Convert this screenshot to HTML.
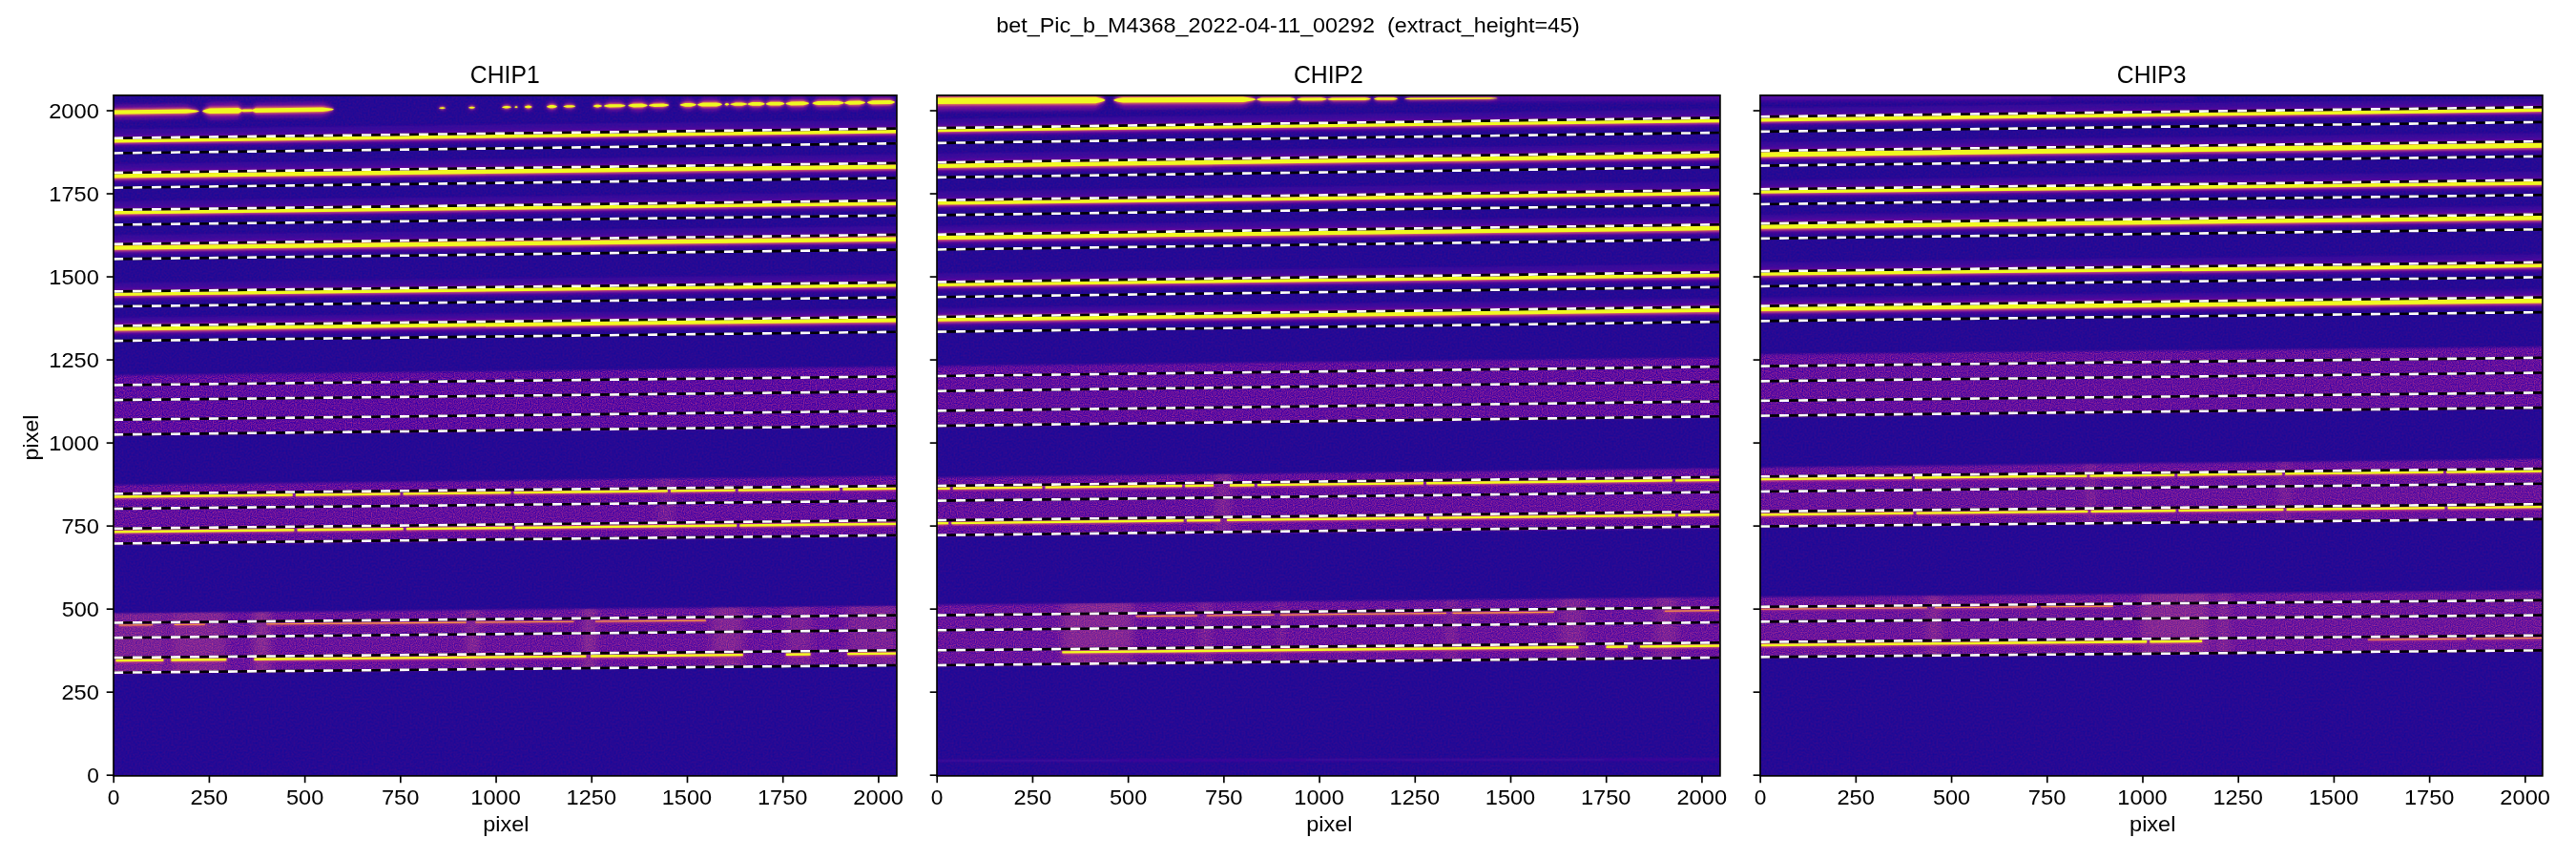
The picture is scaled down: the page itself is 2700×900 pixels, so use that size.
<!DOCTYPE html><html><head><meta charset="utf-8"><style>html,body{margin:0;padding:0;background:#fff;width:2700px;height:900px;overflow:hidden}svg{display:block;will-change:transform}text{font-family:"Liberation Sans",sans-serif;fill:#000}</style></head><body>
<svg width="2700" height="900" viewBox="0 0 2700 900">
<defs>
<filter id="bh" filterUnits="userSpaceOnUse" x="0" y="90" width="2700" height="735"><feGaussianBlur stdDeviation="2.4"/></filter>
<filter id="bm" filterUnits="userSpaceOnUse" x="0" y="90" width="2700" height="735"><feGaussianBlur stdDeviation="1.1"/></filter>
<filter id="bb" filterUnits="userSpaceOnUse" x="0" y="90" width="2700" height="735"><feGaussianBlur stdDeviation="1"/></filter>
<clipPath id="c0"><rect x="119" y="99.85" width="820.93" height="713.05"/></clipPath>
<clipPath id="c1"><rect x="982.02" y="99.85" width="820.91" height="713.05"/></clipPath>
<clipPath id="c2"><rect x="1844.93" y="99.85" width="820" height="713.05"/></clipPath>
<filter id="nz" filterUnits="userSpaceOnUse" x="0" y="90" width="2700" height="735" primitiveUnits="userSpaceOnUse" color-interpolation-filters="sRGB"><feGaussianBlur in="SourceGraphic" stdDeviation="1" result="b"/><feTurbulence type="fractalNoise" baseFrequency="0.85" numOctaves="1" seed="11" result="t"/><feColorMatrix in="t" type="matrix" values="0.85 0 0 0 -0.055  0.36 0 0 0 -0.13  -0.2 0 0 0 0.725  0 0 0 0 1" result="c"/><feComposite in="c" in2="b" operator="in"/></filter>
<filter id="nd" x="0" y="0" width="100%" height="100%" primitiveUnits="userSpaceOnUse" color-interpolation-filters="sRGB"><feTurbulence type="fractalNoise" baseFrequency="0.5" numOctaves="2" seed="5" result="t"/><feColorMatrix in="t" type="matrix" values="0.18 0 0 0 0.06  0.0 0 0 0 0.035  -0.06 0 0 0 0.61  0 0 0 0 1" result="c"/><feComposite in="c" in2="SourceGraphic" operator="in"/></filter>
<filter id="bsk" filterUnits="userSpaceOnUse" x="0" y="90" width="2700" height="735"><feGaussianBlur stdDeviation="4 1"/></filter>
</defs>
<g clip-path="url(#c0)">
<rect x="119" y="99.85" width="820.93" height="713.05" fill="#260996" filter="url(#nd)"/>
<g filter="url(#nz)" fill="#5a09a2">
<polygon points="109,393.4 949.93,384.3 949.93,447.2 109,456.8"/>
<polygon points="109,508.4 949.93,498.7 949.93,562.2 109,571.2"/>
<polygon points="109,642.8 949.93,634.8 949.93,696.6 109,706.3"/>
</g>
<polygon filter="url(#bb)" fill="#c8508a" opacity="0.05" points="109,508.4 949.93,498.7 949.93,562.2 109,571.2"/>
<polygon filter="url(#bb)" fill="#c8508a" opacity="0.1" points="109,642.8 949.93,634.8 949.93,696.6 109,706.3"/>
<clipPath id="sk0_2"><polygon points="109,642.8 949.93,634.8 949.93,696.6 109,706.3"/></clipPath>
<g clip-path="url(#sk0_2)"><g filter="url(#bsk)" fill="#e0707a">
<rect x="115" y="629.8" width="58" height="81.5" opacity="0.156"/>
<rect x="179" y="629.8" width="58" height="81.5" opacity="0.208"/>
<rect x="266" y="629.8" width="17" height="81.5" opacity="0.26"/>
<rect x="489" y="629.8" width="13" height="81.5" opacity="0.234"/>
<rect x="611" y="629.8" width="13" height="81.5" opacity="0.26"/>
<rect x="746" y="629.8" width="33" height="81.5" opacity="0.208"/>
<rect x="824" y="629.8" width="26" height="81.5" opacity="0.156"/>
<rect x="888" y="629.8" width="52" height="81.5" opacity="0.156"/>
</g></g>
<clipPath id="sk0_1"><polygon points="109,508.4 949.93,498.7 949.93,562.2 109,571.2"/></clipPath>
<g clip-path="url(#sk0_1)"><g filter="url(#bsk)" fill="#e0707a">
<rect x="690" y="493.7" width="15" height="82.5" opacity="0.156"/>
</g></g>
<g filter="url(#bb)" fill="#4a08a0" opacity="0.55">
<polygon points="109,135.3 949.93,125.3 949.93,142.3 109,152.3"/>
<polygon points="109,171.7 949.93,161.4 949.93,178.4 109,188.7"/>
<polygon points="109,210.7 949.93,200.7 949.93,217.7 109,227.7"/>
<polygon points="109,246.4 949.93,236.4 949.93,253.4 109,263.4"/>
<polygon points="109,296.4 949.93,287 949.93,304 109,313.4"/>
<polygon points="109,332.5 949.93,323.1 949.93,340.1 109,349.5"/>
</g>
<g filter="url(#bh)" stroke="#8c0ba4" fill="none" opacity="0.8">
<line x1="114" y1="147.81" x2="944.93" y2="137.69" stroke-width="9.0"/>
<line x1="114" y1="222.91" x2="944.93" y2="213.09" stroke-width="9.0"/>
<line x1="114" y1="308.31" x2="944.93" y2="298.79" stroke-width="9.0"/>
</g>
<g filter="url(#bm)" stroke="#e9636a" fill="none">
<line x1="114" y1="147.81" x2="944.93" y2="137.69" stroke-width="5.0"/>
<line x1="114" y1="222.91" x2="944.93" y2="213.09" stroke-width="5.0"/>
<line x1="114" y1="308.31" x2="944.93" y2="298.79" stroke-width="5.0"/>
</g>
<g stroke="#f0f921" fill="none">
<line x1="114" y1="147.81" x2="944.93" y2="137.69" stroke-width="3.5"/>
<line x1="114" y1="222.91" x2="944.93" y2="213.09" stroke-width="3.5"/>
<line x1="114" y1="308.31" x2="944.93" y2="298.79" stroke-width="3.5"/>
</g>
<g filter="url(#bh)" stroke="#8c0ba4" fill="none" opacity="0.85">
<line x1="114" y1="184.51" x2="944.93" y2="174.49" stroke-width="11.0"/>
<line x1="114" y1="259.6" x2="944.93" y2="250.5" stroke-width="11.0"/>
<line x1="114" y1="344.3" x2="944.93" y2="335.2" stroke-width="11.0"/>
</g>
<g filter="url(#bm)" stroke="#ec6f5c" fill="none">
<line x1="114" y1="184.51" x2="944.93" y2="174.49" stroke-width="6.4"/>
<line x1="114" y1="259.6" x2="944.93" y2="250.5" stroke-width="6.4"/>
<line x1="114" y1="344.3" x2="944.93" y2="335.2" stroke-width="6.4"/>
</g>
<g stroke="#f0f921" fill="none">
<line x1="114" y1="184.51" x2="944.93" y2="174.49" stroke-width="4.3"/>
<line x1="114" y1="259.6" x2="944.93" y2="250.5" stroke-width="4.3"/>
<line x1="114" y1="344.3" x2="944.93" y2="335.2" stroke-width="4.3"/>
</g>
<g filter="url(#bh)" stroke="#8c0ba4" fill="none" opacity="0.45">
<line x1="114" y1="520.6" x2="306.7" y2="518.56" stroke-width="7"/>
<line x1="309.9" y1="518.53" x2="419.4" y2="517.37" stroke-width="7"/>
<line x1="422.6" y1="517.33" x2="535.4" y2="516.14" stroke-width="7"/>
<line x1="538.6" y1="516.1" x2="699.8" y2="514.4" stroke-width="7"/>
<line x1="703" y1="514.36" x2="770.6" y2="513.65" stroke-width="7"/>
<line x1="773.8" y1="513.61" x2="880.1" y2="512.48" stroke-width="7"/>
<line x1="883.3" y1="512.45" x2="944.93" y2="511.8" stroke-width="7"/>
<line x1="114" y1="557.3" x2="308.4" y2="555.31" stroke-width="7"/>
<line x1="311.6" y1="555.28" x2="422.7" y2="554.14" stroke-width="7"/>
<line x1="425.9" y1="554.11" x2="537" y2="552.97" stroke-width="7"/>
<line x1="540.2" y1="552.94" x2="772.2" y2="550.57" stroke-width="7"/>
<line x1="775.4" y1="550.53" x2="944.93" y2="548.8" stroke-width="7"/>
<line x1="121.4" y1="692.03" x2="171.4" y2="691.58" stroke-width="7"/>
<line x1="179.4" y1="691.51" x2="237.4" y2="690.98" stroke-width="7"/>
<line x1="266.4" y1="690.72" x2="614.4" y2="687.58" stroke-width="7"/>
<line x1="619.2" y1="687.54" x2="778.7" y2="686.1" stroke-width="7"/>
<line x1="823.8" y1="685.7" x2="849.5" y2="685.47" stroke-width="7"/>
<line x1="888.2" y1="685.12" x2="940" y2="684.65" stroke-width="7"/>
</g>
<g filter="url(#bm)" stroke="#e9636a" fill="none">
<line x1="114" y1="520.6" x2="306.7" y2="518.56" stroke-width="3.8"/>
<line x1="309.9" y1="518.53" x2="419.4" y2="517.37" stroke-width="3.8"/>
<line x1="422.6" y1="517.33" x2="535.4" y2="516.14" stroke-width="3.8"/>
<line x1="538.6" y1="516.1" x2="699.8" y2="514.4" stroke-width="3.8"/>
<line x1="703" y1="514.36" x2="770.6" y2="513.65" stroke-width="3.8"/>
<line x1="773.8" y1="513.61" x2="880.1" y2="512.48" stroke-width="3.8"/>
<line x1="883.3" y1="512.45" x2="944.93" y2="511.8" stroke-width="3.8"/>
<line x1="114" y1="557.3" x2="308.4" y2="555.31" stroke-width="3.8"/>
<line x1="311.6" y1="555.28" x2="422.7" y2="554.14" stroke-width="3.8"/>
<line x1="425.9" y1="554.11" x2="537" y2="552.97" stroke-width="3.8"/>
<line x1="540.2" y1="552.94" x2="772.2" y2="550.57" stroke-width="3.8"/>
<line x1="775.4" y1="550.53" x2="944.93" y2="548.8" stroke-width="3.8"/>
<line x1="121.4" y1="692.03" x2="171.4" y2="691.58" stroke-width="3.8"/>
<line x1="179.4" y1="691.51" x2="237.4" y2="690.98" stroke-width="3.8"/>
<line x1="266.4" y1="690.72" x2="614.4" y2="687.58" stroke-width="3.8"/>
<line x1="619.2" y1="687.54" x2="778.7" y2="686.1" stroke-width="3.8"/>
<line x1="823.8" y1="685.7" x2="849.5" y2="685.47" stroke-width="3.8"/>
<line x1="888.2" y1="685.12" x2="940" y2="684.65" stroke-width="3.8"/>
</g>
<g stroke="#f0f921" fill="none">
<line x1="114" y1="520.6" x2="306.7" y2="518.56" stroke-width="2.4"/>
<line x1="309.9" y1="518.53" x2="419.4" y2="517.37" stroke-width="2.4"/>
<line x1="422.6" y1="517.33" x2="535.4" y2="516.14" stroke-width="2.4"/>
<line x1="538.6" y1="516.1" x2="699.8" y2="514.4" stroke-width="2.4"/>
<line x1="703" y1="514.36" x2="770.6" y2="513.65" stroke-width="2.4"/>
<line x1="773.8" y1="513.61" x2="880.1" y2="512.48" stroke-width="2.4"/>
<line x1="883.3" y1="512.45" x2="944.93" y2="511.8" stroke-width="2.4"/>
<line x1="114" y1="557.3" x2="308.4" y2="555.31" stroke-width="2.4"/>
<line x1="311.6" y1="555.28" x2="422.7" y2="554.14" stroke-width="2.4"/>
<line x1="425.9" y1="554.11" x2="537" y2="552.97" stroke-width="2.4"/>
<line x1="540.2" y1="552.94" x2="772.2" y2="550.57" stroke-width="2.4"/>
<line x1="775.4" y1="550.53" x2="944.93" y2="548.8" stroke-width="2.4"/>
<line x1="121.4" y1="692.03" x2="171.4" y2="691.58" stroke-width="2.4"/>
<line x1="179.4" y1="691.51" x2="237.4" y2="690.98" stroke-width="2.4"/>
<line x1="266.4" y1="690.72" x2="614.4" y2="687.58" stroke-width="2.4"/>
<line x1="619.2" y1="687.54" x2="778.7" y2="686.1" stroke-width="2.4"/>
<line x1="823.8" y1="685.7" x2="849.5" y2="685.47" stroke-width="2.4"/>
<line x1="888.2" y1="685.12" x2="940" y2="684.65" stroke-width="2.4"/>
</g>
<g filter="url(#bh)" stroke="#9c179e" fill="none" opacity="0.25">
<line x1="124.7" y1="655" x2="160.1" y2="654.72" stroke-width="4"/>
<line x1="182.7" y1="654.55" x2="214.9" y2="654.29" stroke-width="4"/>
<line x1="279.3" y1="653.78" x2="488.7" y2="652.12" stroke-width="4"/>
<line x1="498.4" y1="652.05" x2="601.5" y2="651.23" stroke-width="4"/>
<line x1="624" y1="651.05" x2="740" y2="650.13" stroke-width="4"/>
</g>
<g filter="url(#bm)" stroke="#d0487a" fill="none">
<line x1="124.7" y1="655" x2="160.1" y2="654.72" stroke-width="2.2"/>
<line x1="182.7" y1="654.55" x2="214.9" y2="654.29" stroke-width="2.2"/>
<line x1="279.3" y1="653.78" x2="488.7" y2="652.12" stroke-width="2.2"/>
<line x1="498.4" y1="652.05" x2="601.5" y2="651.23" stroke-width="2.2"/>
<line x1="624" y1="651.05" x2="740" y2="650.13" stroke-width="2.2"/>
</g>
<g stroke="#f8a03a" fill="none">
<line x1="124.7" y1="655" x2="160.1" y2="654.72" stroke-width="1.1"/>
<line x1="182.7" y1="654.55" x2="214.9" y2="654.29" stroke-width="1.1"/>
<line x1="279.3" y1="653.78" x2="488.7" y2="652.12" stroke-width="1.1"/>
<line x1="498.4" y1="652.05" x2="601.5" y2="651.23" stroke-width="1.1"/>
<line x1="624" y1="651.05" x2="740" y2="650.13" stroke-width="1.1"/>
</g>
<g filter="url(#bh)" fill="#9a179b" opacity="0.8">
<path d="M119.0,117.60 L119.0,111.00 L195.0,110.02 L197.3,110.67 L199.7,111.38 L202.0,112.17 L204.3,113.08 L206.7,114.22 L209.0,116.44 L206.7,118.72 L204.3,119.91 L202.0,120.88 L199.7,121.73 L197.3,122.50 L195.0,123.22 L119.0,124.20Z"/>
<path d="M212.0,116.40 L213.3,113.52 L214.7,112.02 L216.0,110.81 L217.3,109.74 L218.7,108.78 L220.0,107.90 L250.0,107.51 L250.7,108.37 L251.3,109.31 L252.0,110.34 L252.7,111.53 L253.3,113.00 L254.0,115.86 L253.3,118.73 L252.7,120.22 L252.0,121.42 L251.3,122.48 L250.7,123.43 L250.0,124.31 L220.0,124.70 L218.7,123.84 L217.3,122.92 L216.0,121.89 L214.7,120.71 L213.3,119.25Z"/>
<path d="M252.0,115.88 L252.5,114.55 L253.0,113.85 L253.5,113.29 L254.0,112.80 L254.5,112.35 L255.0,111.94 L263.0,111.84 L263.5,112.24 L264.0,112.67 L264.5,113.15 L265.0,113.70 L265.5,114.38 L266.0,115.70 L265.5,117.04 L265.0,117.73 L264.5,118.29 L264.0,118.79 L263.5,119.23 L263.0,119.64 L255.0,119.74 L254.5,119.35 L254.0,118.91 L253.5,118.44 L253.0,117.89 L252.5,117.21Z"/>
<path d="M264.0,115.73 L264.7,113.36 L265.3,112.14 L266.0,111.15 L266.7,110.28 L267.3,109.50 L268.0,108.78 L338.0,107.87 L340.0,108.56 L342.0,109.31 L344.0,110.14 L346.0,111.10 L348.0,112.29 L350.0,114.62 L348.0,117.00 L346.0,118.24 L344.0,119.25 L342.0,120.13 L340.0,120.93 L338.0,121.67 L268.0,122.58 L267.3,121.87 L266.7,121.10 L266.0,120.25 L265.3,119.28 L264.7,118.07Z"/>
<path d="M460.0,113.20 L460.5,112.29 L461.0,111.82 L461.5,111.44 L462.0,111.10 L462.5,110.80 L463.0,110.52 L464.0,110.51 L464.5,110.77 L465.0,111.06 L465.5,111.38 L466.0,111.75 L466.5,112.21 L467.0,113.11 L466.5,114.01 L466.0,114.49 L465.5,114.87 L465.0,115.20 L464.5,115.51 L464.0,115.79 L463.0,115.80 L462.5,115.53 L462.0,115.24 L461.5,114.92 L461.0,114.55 L460.5,114.09Z"/>
<path d="M491.0,112.80 L491.5,111.73 L492.0,111.17 L492.5,110.72 L493.0,110.33 L493.5,109.97 L494.0,109.64 L495.0,109.63 L495.5,109.94 L496.0,110.29 L496.5,110.67 L497.0,111.11 L497.5,111.65 L498.0,112.71 L497.5,113.78 L497.0,114.33 L496.5,114.78 L496.0,115.18 L495.5,115.54 L495.0,115.87 L494.0,115.88 L493.5,115.56 L493.0,115.22 L492.5,114.84 L492.0,114.40 L491.5,113.86Z"/>
<path d="M526.0,112.35 L526.7,111.11 L527.3,110.47 L528.0,109.94 L528.7,109.49 L529.3,109.08 L530.0,108.69 L532.0,108.67 L532.7,109.03 L533.3,109.43 L534.0,109.87 L534.7,110.37 L535.3,111.00 L536.0,112.22 L535.3,113.45 L534.7,114.10 L534.0,114.62 L533.3,115.07 L532.7,115.49 L532.0,115.87 L530.0,115.89 L529.3,115.53 L528.7,115.13 L528.0,114.69 L527.3,114.19 L526.7,113.57Z"/>
<path d="M539.4,112.17 L539.6,111.35 L539.7,110.93 L539.9,110.58 L540.1,110.28 L540.2,110.01 L540.4,109.76 L541.6,109.74 L541.8,109.99 L541.9,110.26 L542.1,110.55 L542.3,110.89 L542.4,111.31 L542.6,112.13 L542.4,112.95 L542.3,113.38 L542.1,113.72 L541.9,114.02 L541.8,114.29 L541.6,114.54 L540.4,114.56 L540.2,114.31 L540.1,114.05 L539.9,113.75 L539.7,113.41 L539.6,112.99Z"/>
<path d="M549.7,112.04 L550.2,110.64 L550.7,109.92 L551.2,109.33 L551.7,108.81 L552.2,108.35 L552.7,107.92 L554.7,107.89 L555.2,108.31 L555.7,108.76 L556.2,109.26 L556.7,109.84 L557.2,110.55 L557.7,111.94 L557.2,113.33 L556.7,114.06 L556.2,114.65 L555.7,115.16 L555.2,115.63 L554.7,116.05 L552.7,116.08 L552.2,115.66 L551.7,115.21 L551.2,114.71 L550.7,114.14 L550.2,113.43Z"/>
<path d="M572.9,111.74 L573.6,110.09 L574.2,109.24 L574.9,108.55 L575.6,107.94 L576.2,107.39 L576.9,106.89 L580.0,106.85 L580.7,107.34 L581.3,107.87 L582.0,108.46 L582.7,109.13 L583.3,109.97 L584.0,111.60 L583.3,113.24 L582.7,114.10 L582.0,114.79 L581.3,115.39 L580.7,115.94 L580.0,116.45 L576.9,116.49 L576.2,116.00 L575.6,115.47 L574.9,114.88 L574.2,114.21 L573.6,113.37Z"/>
<path d="M590.4,111.51 L591.1,110.28 L591.7,109.63 L592.4,109.11 L593.1,108.66 L593.7,108.24 L594.4,107.86 L599.2,107.80 L599.9,108.16 L600.5,108.56 L601.2,109.00 L601.9,109.50 L602.5,110.13 L603.2,111.35 L602.5,112.59 L601.9,113.23 L601.2,113.75 L600.5,114.21 L599.9,114.62 L599.2,115.00 L594.4,115.06 L593.7,114.70 L593.1,114.30 L592.4,113.86 L591.7,113.36 L591.1,112.73Z"/>
<path d="M621.5,111.11 L622.2,109.71 L622.8,108.98 L623.5,108.39 L624.2,107.88 L624.8,107.41 L625.5,106.98 L627.1,106.96 L627.8,107.37 L628.4,107.82 L629.1,108.32 L629.8,108.89 L630.4,109.60 L631.1,110.99 L630.4,112.39 L629.8,113.12 L629.1,113.71 L628.4,114.22 L627.8,114.69 L627.1,115.12 L625.5,115.14 L624.8,114.73 L624.2,114.28 L623.5,113.78 L622.8,113.21 L622.2,112.50Z"/>
<path d="M632.7,110.97 L633.7,109.32 L634.7,108.46 L635.7,107.76 L636.7,107.15 L637.7,106.60 L638.7,106.09 L649.8,105.95 L650.8,106.43 L651.8,106.96 L652.8,107.54 L653.8,108.21 L654.8,109.04 L655.8,110.67 L654.8,112.32 L653.8,113.18 L652.8,113.87 L651.8,114.48 L650.8,115.04 L649.8,115.55 L638.7,115.69 L637.7,115.21 L636.7,114.68 L635.7,114.10 L634.7,113.42 L633.7,112.59Z"/>
<path d="M658.2,110.64 L659.2,108.66 L660.2,107.63 L661.2,106.80 L662.2,106.07 L663.2,105.41 L664.2,104.80 L673.0,104.69 L674.0,105.27 L675.0,105.91 L676.0,106.61 L677.0,107.42 L678.0,108.42 L679.0,110.37 L678.0,112.35 L677.0,113.38 L676.0,114.21 L675.0,114.94 L674.0,115.60 L673.0,116.21 L664.2,116.32 L663.2,115.74 L662.2,115.10 L661.2,114.40 L660.2,113.59 L659.2,112.59Z"/>
<path d="M679.8,110.36 L680.8,108.71 L681.8,107.85 L682.8,107.15 L683.8,106.54 L684.8,105.99 L685.8,105.48 L695.3,105.36 L696.3,105.84 L697.3,106.37 L698.3,106.95 L699.3,107.62 L700.3,108.46 L701.3,110.08 L700.3,111.73 L699.3,112.59 L698.3,113.29 L697.3,113.90 L696.3,114.45 L695.3,114.96 L685.8,115.08 L684.8,114.60 L683.8,114.07 L682.8,113.49 L681.8,112.82 L680.8,111.98Z"/>
<path d="M712.5,109.94 L713.5,108.04 L714.5,107.06 L715.5,106.26 L716.5,105.56 L717.5,104.92 L718.5,104.34 L724.0,104.27 L725.0,104.83 L726.0,105.44 L727.0,106.11 L728.0,106.88 L729.0,107.84 L730.0,109.71 L729.0,111.61 L728.0,112.59 L727.0,113.39 L726.0,114.09 L725.0,114.72 L724.0,115.31 L718.5,115.38 L717.5,114.82 L716.5,114.21 L715.5,113.54 L714.5,112.77 L713.5,111.81Z"/>
<path d="M730.8,109.70 L731.8,107.64 L732.8,106.57 L733.8,105.70 L734.8,104.95 L735.8,104.26 L736.8,103.62 L751.1,103.44 L752.1,104.05 L753.1,104.71 L754.1,105.44 L755.1,106.28 L756.1,107.33 L757.1,109.36 L756.1,111.42 L755.1,112.49 L754.1,113.36 L753.1,114.12 L752.1,114.80 L751.1,115.44 L736.8,115.62 L735.8,115.01 L734.8,114.35 L733.8,113.62 L732.8,112.78 L731.8,111.74Z"/>
<path d="M759.5,109.33 L759.8,108.10 L760.2,107.46 L760.5,106.94 L760.8,106.49 L761.2,106.08 L761.5,105.70 L762.3,105.69 L762.6,106.06 L763.0,106.46 L763.3,106.91 L763.6,107.41 L764.0,108.04 L764.3,109.27 L764.0,110.50 L763.6,111.14 L763.3,111.66 L763.0,112.11 L762.6,112.52 L762.3,112.89 L761.5,112.90 L761.2,112.54 L760.8,112.14 L760.5,111.69 L760.2,111.18 L759.8,110.55Z"/>
<path d="M765.1,109.26 L766.1,107.61 L767.1,106.75 L768.1,106.05 L769.1,105.44 L770.1,104.89 L771.1,104.38 L777.5,104.30 L778.5,104.78 L779.5,105.31 L780.5,105.89 L781.5,106.56 L782.5,107.40 L783.5,109.02 L782.5,110.67 L781.5,111.53 L780.5,112.23 L779.5,112.84 L778.5,113.39 L777.5,113.90 L771.1,113.98 L770.1,113.50 L769.1,112.97 L768.1,112.39 L767.1,111.72 L766.1,110.88Z"/>
<path d="M783.5,109.02 L784.3,107.13 L785.2,106.14 L786.0,105.35 L786.8,104.65 L787.7,104.02 L788.5,103.44 L796.8,103.33 L797.6,103.89 L798.5,104.50 L799.3,105.17 L800.1,105.95 L801.0,106.91 L801.8,108.78 L801.0,110.68 L800.1,111.66 L799.3,112.46 L798.5,113.16 L797.6,113.79 L796.8,114.37 L788.5,114.48 L787.7,113.91 L786.8,113.31 L786.0,112.63 L785.2,111.85 L784.3,110.89Z"/>
<path d="M802.6,108.77 L803.4,106.88 L804.3,105.90 L805.1,105.10 L805.9,104.40 L806.8,103.77 L807.6,103.19 L817.5,103.06 L818.3,103.62 L819.2,104.23 L820.0,104.91 L820.8,105.68 L821.7,106.64 L822.5,108.52 L821.7,110.41 L820.8,111.39 L820.0,112.19 L819.2,112.89 L818.3,113.52 L817.5,114.10 L807.6,114.23 L806.8,113.67 L805.9,113.06 L805.1,112.38 L804.3,111.61 L803.4,110.65Z"/>
<path d="M823.4,108.51 L824.4,106.44 L825.4,105.38 L826.4,104.51 L827.4,103.75 L828.4,103.06 L829.4,102.43 L842.1,102.26 L843.1,102.87 L844.1,103.53 L845.1,104.27 L846.1,105.11 L847.1,106.15 L848.1,108.19 L847.1,110.25 L846.1,111.32 L845.1,112.18 L844.1,112.94 L843.1,113.63 L842.1,114.26 L829.4,114.43 L828.4,113.82 L827.4,113.16 L826.4,112.43 L825.4,111.58 L824.4,110.54Z"/>
<path d="M851.3,108.15 L852.3,106.08 L853.3,105.02 L854.3,104.15 L855.3,103.39 L856.3,102.70 L857.3,102.07 L878.8,101.79 L879.8,102.40 L880.8,103.06 L881.8,103.79 L882.8,104.63 L883.8,105.68 L884.8,107.71 L883.8,109.77 L882.8,110.84 L881.8,111.71 L880.8,112.47 L879.8,113.16 L878.8,113.79 L857.3,114.07 L856.3,113.46 L855.3,112.80 L854.3,112.07 L853.3,111.22 L852.3,110.18Z"/>
<path d="M884.8,107.71 L885.8,105.65 L886.8,104.58 L887.8,103.72 L888.8,102.96 L889.8,102.27 L890.8,101.64 L901.1,101.50 L902.1,102.11 L903.1,102.77 L904.1,103.50 L905.1,104.35 L906.1,105.39 L907.1,107.42 L906.1,109.49 L905.1,110.55 L904.1,111.42 L903.1,112.18 L902.1,112.87 L901.1,113.50 L890.8,113.64 L889.8,113.03 L888.8,112.37 L887.8,111.63 L886.8,110.79 L885.8,109.75Z"/>
<path d="M908.7,107.40 L909.7,105.34 L910.7,104.27 L911.7,103.41 L912.7,102.65 L913.7,101.96 L914.7,101.33 L933.0,101.09 L933.8,101.70 L934.7,102.36 L935.5,103.10 L936.3,103.94 L937.2,104.99 L938.0,107.03 L937.2,109.08 L936.3,110.15 L935.5,111.02 L934.7,111.77 L933.8,112.46 L933.0,113.09 L914.7,113.33 L913.7,112.72 L912.7,112.06 L911.7,111.32 L910.7,110.48 L909.7,109.44Z"/>
</g>
<g filter="url(#bm)" fill="#ef7a55">
<path d="M119.0,117.60 L119.0,114.41 L195.0,113.43 L197.3,113.73 L199.7,114.06 L202.0,114.42 L204.3,114.85 L206.7,115.38 L209.0,116.44 L206.7,117.56 L204.3,118.15 L202.0,118.63 L199.7,119.06 L197.3,119.45 L195.0,119.81 L119.0,120.79Z"/>
<path d="M212.0,116.40 L213.3,115.00 L214.7,114.26 L216.0,113.67 L217.3,113.15 L218.7,112.67 L220.0,112.24 L250.0,111.85 L250.7,112.26 L251.3,112.71 L252.0,113.20 L252.7,113.77 L253.3,114.48 L254.0,115.86 L253.3,117.25 L252.7,117.97 L252.0,118.56 L251.3,119.07 L250.7,119.54 L250.0,119.97 L220.0,120.36 L218.7,119.95 L217.3,119.51 L216.0,119.03 L214.7,118.47 L213.3,117.77Z"/>
<path d="M252.0,115.88 L252.5,115.23 L253.0,114.89 L253.5,114.62 L254.0,114.38 L254.5,114.16 L255.0,113.96 L263.0,113.86 L263.5,114.04 L264.0,114.25 L264.5,114.48 L265.0,114.74 L265.5,115.07 L266.0,115.70 L265.5,116.35 L265.0,116.69 L264.5,116.97 L264.0,117.21 L263.5,117.42 L263.0,117.63 L255.0,117.73 L254.5,117.54 L254.0,117.33 L253.5,117.11 L253.0,116.84 L252.5,116.52Z"/>
<path d="M264.0,115.73 L264.7,114.58 L265.3,113.99 L266.0,113.50 L266.7,113.08 L267.3,112.70 L268.0,112.34 L338.0,111.44 L340.0,111.76 L342.0,112.11 L344.0,112.49 L346.0,112.94 L348.0,113.51 L350.0,114.62 L348.0,115.78 L346.0,116.39 L344.0,116.90 L342.0,117.34 L340.0,117.74 L338.0,118.11 L268.0,119.01 L267.3,118.67 L266.7,118.31 L266.0,117.90 L265.3,117.44 L264.7,116.86Z"/>
<path d="M460.0,113.20 L460.5,112.76 L461.0,112.52 L461.5,112.34 L462.0,112.17 L462.5,112.02 L463.0,111.88 L464.0,111.87 L464.5,112.00 L465.0,112.13 L465.5,112.28 L466.0,112.46 L466.5,112.68 L467.0,113.11 L466.5,113.55 L466.0,113.78 L465.5,113.97 L465.0,114.13 L464.5,114.28 L464.0,114.42 L463.0,114.43 L462.5,114.31 L462.0,114.17 L461.5,114.02 L461.0,113.84 L460.5,113.63Z"/>
<path d="M491.0,112.80 L491.5,112.28 L492.0,112.00 L492.5,111.78 L493.0,111.59 L493.5,111.41 L494.0,111.25 L495.0,111.24 L495.5,111.39 L496.0,111.55 L496.5,111.73 L497.0,111.94 L497.5,112.20 L498.0,112.71 L497.5,113.23 L497.0,113.50 L496.5,113.72 L496.0,113.91 L495.5,114.09 L495.0,114.25 L494.0,114.27 L493.5,114.12 L493.0,113.95 L492.5,113.77 L492.0,113.56 L491.5,113.31Z"/>
<path d="M526.0,112.35 L526.7,111.74 L527.3,111.43 L528.0,111.17 L528.7,110.95 L529.3,110.74 L530.0,110.55 L532.0,110.53 L532.7,110.70 L533.3,110.89 L534.0,111.09 L534.7,111.33 L535.3,111.63 L536.0,112.22 L535.3,112.82 L534.7,113.13 L534.0,113.39 L533.3,113.61 L532.7,113.82 L532.0,114.01 L530.0,114.03 L529.3,113.86 L528.7,113.68 L528.0,113.47 L527.3,113.23 L526.7,112.93Z"/>
<path d="M539.4,112.17 L539.6,111.77 L539.7,111.57 L539.9,111.40 L540.1,111.25 L540.2,111.12 L540.4,111.00 L541.6,110.98 L541.8,111.10 L541.9,111.23 L542.1,111.37 L542.3,111.54 L542.4,111.74 L542.6,112.13 L542.4,112.53 L542.3,112.74 L542.1,112.90 L541.9,113.05 L541.8,113.18 L541.6,113.30 L540.4,113.32 L540.2,113.20 L540.1,113.07 L539.9,112.93 L539.7,112.77 L539.6,112.57Z"/>
<path d="M549.7,112.04 L550.2,111.36 L550.7,111.01 L551.2,110.72 L551.7,110.47 L552.2,110.24 L552.7,110.03 L554.7,110.00 L555.2,110.20 L555.7,110.42 L556.2,110.65 L556.7,110.93 L557.2,111.27 L557.7,111.94 L557.2,112.62 L556.7,112.97 L556.2,113.26 L555.7,113.51 L555.2,113.74 L554.7,113.95 L552.7,113.97 L552.2,113.77 L551.7,113.56 L551.2,113.32 L550.7,113.05 L550.2,112.71Z"/>
<path d="M572.9,111.74 L573.6,110.94 L574.2,110.52 L574.9,110.18 L575.6,109.89 L576.2,109.62 L576.9,109.37 L580.0,109.33 L580.7,109.56 L581.3,109.81 L582.0,110.09 L582.7,110.41 L583.3,110.81 L584.0,111.60 L583.3,112.40 L582.7,112.81 L582.0,113.15 L581.3,113.45 L580.7,113.72 L580.0,113.97 L576.9,114.01 L576.2,113.78 L575.6,113.52 L574.9,113.24 L574.2,112.92 L573.6,112.52Z"/>
<path d="M590.4,111.51 L591.1,110.91 L591.7,110.60 L592.4,110.34 L593.1,110.12 L593.7,109.91 L594.4,109.72 L599.2,109.66 L599.9,109.83 L600.5,110.02 L601.2,110.23 L601.9,110.47 L602.5,110.76 L603.2,111.35 L602.5,111.95 L601.9,112.27 L601.2,112.52 L600.5,112.75 L599.9,112.95 L599.2,113.14 L594.4,113.20 L593.7,113.03 L593.1,112.84 L592.4,112.64 L591.7,112.40 L591.1,112.10Z"/>
<path d="M621.5,111.11 L622.2,110.43 L622.8,110.07 L623.5,109.79 L624.2,109.53 L624.8,109.30 L625.5,109.09 L627.1,109.07 L627.8,109.26 L628.4,109.48 L629.1,109.71 L629.8,109.99 L630.4,110.32 L631.1,110.99 L630.4,111.67 L629.8,112.03 L629.1,112.32 L628.4,112.57 L627.8,112.80 L627.1,113.01 L625.5,113.03 L624.8,112.84 L624.2,112.62 L623.5,112.39 L622.8,112.12 L622.2,111.78Z"/>
<path d="M632.7,110.97 L633.7,110.16 L634.7,109.74 L635.7,109.40 L636.7,109.10 L637.7,108.82 L638.7,108.57 L649.8,108.43 L650.8,108.65 L651.8,108.90 L652.8,109.18 L653.8,109.50 L654.8,109.89 L655.8,110.67 L654.8,111.47 L653.8,111.90 L652.8,112.24 L651.8,112.54 L650.8,112.81 L649.8,113.07 L638.7,113.21 L637.7,112.98 L636.7,112.73 L635.7,112.46 L634.7,112.14 L633.7,111.75Z"/>
<path d="M658.2,110.64 L659.2,109.68 L660.2,109.17 L661.2,108.76 L662.2,108.40 L663.2,108.08 L664.2,107.78 L673.0,107.66 L674.0,107.94 L675.0,108.24 L676.0,108.57 L677.0,108.96 L678.0,109.43 L679.0,110.37 L678.0,111.33 L677.0,111.84 L676.0,112.25 L675.0,112.60 L674.0,112.93 L673.0,113.23 L664.2,113.34 L663.2,113.07 L662.2,112.77 L661.2,112.44 L660.2,112.05 L659.2,111.58Z"/>
<path d="M679.8,110.36 L680.8,109.55 L681.8,109.13 L682.8,108.79 L683.8,108.49 L684.8,108.22 L685.8,107.96 L695.3,107.84 L696.3,108.07 L697.3,108.31 L698.3,108.59 L699.3,108.91 L700.3,109.30 L701.3,110.08 L700.3,110.89 L699.3,111.31 L698.3,111.65 L697.3,111.95 L696.3,112.23 L695.3,112.48 L685.8,112.60 L684.8,112.37 L683.8,112.13 L682.8,111.85 L681.8,111.53 L680.8,111.14Z"/>
<path d="M712.5,109.94 L713.5,109.01 L714.5,108.53 L715.5,108.14 L716.5,107.79 L717.5,107.48 L718.5,107.19 L724.0,107.12 L725.0,107.38 L726.0,107.67 L727.0,107.99 L728.0,108.36 L729.0,108.81 L730.0,109.71 L729.0,110.63 L728.0,111.12 L727.0,111.51 L726.0,111.85 L725.0,112.17 L724.0,112.46 L718.5,112.53 L717.5,112.26 L716.5,111.98 L715.5,111.66 L714.5,111.29 L713.5,110.83Z"/>
<path d="M730.8,109.70 L731.8,108.70 L732.8,108.18 L733.8,107.75 L734.8,107.38 L735.8,107.04 L736.8,106.72 L751.1,106.54 L752.1,106.83 L753.1,107.14 L754.1,107.49 L755.1,107.89 L756.1,108.38 L757.1,109.36 L756.1,110.36 L755.1,110.89 L754.1,111.31 L753.1,111.69 L752.1,112.03 L751.1,112.34 L736.8,112.52 L735.8,112.24 L734.8,111.92 L733.8,111.58 L732.8,111.18 L731.8,110.68Z"/>
<path d="M759.5,109.33 L759.8,108.73 L760.2,108.42 L760.5,108.17 L760.8,107.95 L761.2,107.75 L761.5,107.56 L762.3,107.55 L762.6,107.73 L763.0,107.92 L763.3,108.13 L763.6,108.38 L764.0,108.68 L764.3,109.27 L764.0,109.87 L763.6,110.18 L763.3,110.43 L763.0,110.65 L762.6,110.85 L762.3,111.03 L761.5,111.04 L761.2,110.87 L760.8,110.68 L760.5,110.47 L760.2,110.22 L759.8,109.92Z"/>
<path d="M765.1,109.26 L766.1,108.45 L767.1,108.03 L768.1,107.69 L769.1,107.39 L770.1,107.11 L771.1,106.86 L777.5,106.78 L778.5,107.01 L779.5,107.25 L780.5,107.53 L781.5,107.85 L782.5,108.24 L783.5,109.02 L782.5,109.83 L781.5,110.25 L780.5,110.59 L779.5,110.89 L778.5,111.16 L777.5,111.42 L771.1,111.50 L770.1,111.27 L769.1,111.03 L768.1,110.75 L767.1,110.43 L766.1,110.04Z"/>
<path d="M783.5,109.02 L784.3,108.10 L785.2,107.62 L786.0,107.23 L786.8,106.89 L787.7,106.58 L788.5,106.29 L796.8,106.18 L797.6,106.45 L798.5,106.74 L799.3,107.06 L800.1,107.43 L801.0,107.88 L801.8,108.78 L801.0,109.71 L800.1,110.19 L799.3,110.58 L798.5,110.92 L797.6,111.23 L796.8,111.52 L788.5,111.62 L787.7,111.36 L786.8,111.07 L786.0,110.75 L785.2,110.38 L784.3,109.92Z"/>
<path d="M802.6,108.77 L803.4,107.85 L804.3,107.37 L805.1,106.98 L805.9,106.64 L806.8,106.33 L807.6,106.04 L817.5,105.91 L818.3,106.18 L819.2,106.47 L820.0,106.79 L820.8,107.16 L821.7,107.62 L822.5,108.52 L821.7,109.44 L820.8,109.92 L820.0,110.31 L819.2,110.65 L818.3,110.96 L817.5,111.25 L807.6,111.38 L806.8,111.11 L805.9,110.82 L805.1,110.50 L804.3,110.13 L803.4,109.67Z"/>
<path d="M823.4,108.51 L824.4,107.50 L825.4,106.98 L826.4,106.55 L827.4,106.18 L828.4,105.84 L829.4,105.53 L842.1,105.36 L843.1,105.65 L844.1,105.96 L845.1,106.31 L846.1,106.71 L847.1,107.21 L848.1,108.19 L847.1,109.19 L846.1,109.71 L845.1,110.14 L844.1,110.51 L843.1,110.85 L842.1,111.16 L829.4,111.33 L828.4,111.04 L827.4,110.73 L826.4,110.38 L825.4,109.98 L824.4,109.48Z"/>
<path d="M851.3,108.15 L852.3,107.14 L853.3,106.62 L854.3,106.19 L855.3,105.82 L856.3,105.48 L857.3,105.17 L878.8,104.89 L879.8,105.18 L880.8,105.49 L881.8,105.84 L882.8,106.24 L883.8,106.74 L884.8,107.71 L883.8,108.72 L882.8,109.24 L881.8,109.66 L880.8,110.04 L879.8,110.38 L878.8,110.69 L857.3,110.97 L856.3,110.68 L855.3,110.37 L854.3,110.02 L853.3,109.62 L852.3,109.12Z"/>
<path d="M884.8,107.71 L885.8,106.71 L886.8,106.19 L887.8,105.76 L888.8,105.39 L889.8,105.05 L890.8,104.74 L901.1,104.60 L902.1,104.89 L903.1,105.20 L904.1,105.55 L905.1,105.95 L906.1,106.45 L907.1,107.42 L906.1,108.43 L905.1,108.95 L904.1,109.38 L903.1,109.75 L902.1,110.09 L901.1,110.40 L890.8,110.54 L889.8,110.25 L888.8,109.93 L887.8,109.59 L886.8,109.19 L885.8,108.69Z"/>
<path d="M908.7,107.40 L909.7,106.40 L910.7,105.88 L911.7,105.45 L912.7,105.08 L913.7,104.74 L914.7,104.43 L933.0,104.19 L933.8,104.48 L934.7,104.80 L935.5,105.14 L936.3,105.55 L937.2,106.05 L938.0,107.03 L937.2,108.03 L936.3,108.55 L935.5,108.97 L934.7,109.34 L933.8,109.68 L933.0,109.99 L914.7,110.23 L913.7,109.94 L912.7,109.63 L911.7,109.28 L910.7,108.88 L909.7,108.38Z"/>
</g>
<g fill="#f0f921">
<path d="M119.0,117.60 L119.0,115.40 L195.0,114.42 L197.3,114.62 L199.7,114.83 L202.0,115.08 L204.3,115.36 L206.7,115.72 L209.0,116.44 L206.7,117.22 L204.3,117.64 L202.0,117.98 L199.7,118.28 L197.3,118.56 L195.0,118.82 L119.0,119.80Z"/>
<path d="M212.0,116.40 L213.3,115.43 L214.7,114.92 L216.0,114.50 L217.3,114.14 L218.7,113.80 L220.0,113.50 L250.0,113.11 L250.7,113.39 L251.3,113.70 L252.0,114.04 L252.7,114.43 L253.3,114.91 L254.0,115.86 L253.3,116.82 L252.7,117.32 L252.0,117.73 L251.3,118.09 L250.7,118.41 L250.0,118.71 L220.0,119.10 L218.7,118.82 L217.3,118.53 L216.0,118.19 L214.7,117.81 L213.3,117.34Z"/>
<path d="M252.0,115.88 L252.5,115.43 L253.0,115.20 L253.5,115.01 L254.0,114.84 L254.5,114.69 L255.0,114.54 L263.0,114.44 L263.5,114.57 L264.0,114.71 L264.5,114.86 L265.0,115.04 L265.5,115.26 L266.0,115.70 L265.5,116.15 L265.0,116.39 L264.5,116.58 L264.0,116.75 L263.5,116.90 L263.0,117.04 L255.0,117.14 L254.5,117.02 L254.0,116.88 L253.5,116.72 L253.0,116.54 L252.5,116.32Z"/>
<path d="M264.0,115.73 L264.7,114.93 L265.3,114.52 L266.0,114.18 L266.7,113.89 L267.3,113.62 L268.0,113.38 L338.0,112.47 L340.0,112.68 L342.0,112.92 L344.0,113.18 L346.0,113.48 L348.0,113.86 L350.0,114.62 L348.0,115.43 L346.0,115.86 L344.0,116.21 L342.0,116.52 L340.0,116.81 L338.0,117.07 L268.0,117.98 L267.3,117.75 L266.7,117.50 L266.0,117.22 L265.3,116.90 L264.7,116.50Z"/>
<path d="M460.0,113.20 L460.5,112.89 L461.0,112.73 L461.5,112.60 L462.0,112.48 L462.5,112.38 L463.0,112.28 L464.0,112.27 L464.5,112.35 L465.0,112.44 L465.5,112.55 L466.0,112.66 L466.5,112.81 L467.0,113.11 L466.5,113.41 L466.0,113.58 L465.5,113.71 L465.0,113.82 L464.5,113.93 L464.0,114.03 L463.0,114.04 L462.5,113.95 L462.0,113.86 L461.5,113.76 L461.0,113.64 L460.5,113.49Z"/>
<path d="M491.0,112.80 L491.5,112.44 L492.0,112.25 L492.5,112.09 L493.0,111.96 L493.5,111.83 L494.0,111.72 L495.0,111.71 L495.5,111.81 L496.0,111.92 L496.5,112.04 L497.0,112.18 L497.5,112.36 L498.0,112.71 L497.5,113.07 L497.0,113.26 L496.5,113.41 L496.0,113.55 L495.5,113.67 L495.0,113.79 L494.0,113.80 L493.5,113.70 L493.0,113.59 L492.5,113.46 L492.0,113.32 L491.5,113.15Z"/>
<path d="M526.0,112.35 L526.7,111.93 L527.3,111.71 L528.0,111.53 L528.7,111.37 L529.3,111.23 L530.0,111.09 L532.0,111.07 L532.7,111.18 L533.3,111.31 L534.0,111.45 L534.7,111.61 L535.3,111.82 L536.0,112.22 L535.3,112.63 L534.7,112.85 L534.0,113.03 L533.3,113.19 L532.7,113.33 L532.0,113.47 L530.0,113.49 L529.3,113.38 L528.7,113.25 L528.0,113.11 L527.3,112.95 L526.7,112.75Z"/>
<path d="M539.4,112.17 L539.6,111.90 L539.7,111.75 L539.9,111.64 L540.1,111.54 L540.2,111.44 L540.4,111.36 L541.6,111.34 L541.8,111.42 L541.9,111.51 L542.1,111.61 L542.3,111.72 L542.4,111.86 L542.6,112.13 L542.4,112.41 L542.3,112.55 L542.1,112.67 L541.9,112.77 L541.8,112.86 L541.6,112.94 L540.4,112.96 L540.2,112.88 L540.1,112.79 L539.9,112.69 L539.7,112.58 L539.6,112.44Z"/>
<path d="M549.7,112.04 L550.2,111.57 L550.7,111.32 L551.2,111.12 L551.7,110.95 L552.2,110.79 L552.7,110.64 L554.7,110.61 L555.2,110.75 L555.7,110.90 L556.2,111.06 L556.7,111.25 L557.2,111.48 L557.7,111.94 L557.2,112.41 L556.7,112.65 L556.2,112.85 L555.7,113.03 L555.2,113.19 L554.7,113.33 L552.7,113.36 L552.2,113.23 L551.7,113.08 L551.2,112.92 L550.7,112.73 L550.2,112.50Z"/>
<path d="M572.9,111.74 L573.6,111.19 L574.2,110.89 L574.9,110.66 L575.6,110.45 L576.2,110.26 L576.9,110.09 L580.0,110.05 L580.7,110.21 L581.3,110.38 L582.0,110.57 L582.7,110.79 L583.3,111.06 L584.0,111.60 L583.3,112.15 L582.7,112.44 L582.0,112.68 L581.3,112.89 L580.7,113.07 L580.0,113.25 L576.9,113.29 L576.2,113.13 L575.6,112.96 L574.9,112.77 L574.2,112.55 L573.6,112.28Z"/>
<path d="M590.4,111.51 L591.1,111.10 L591.7,110.88 L592.4,110.70 L593.1,110.54 L593.7,110.40 L594.4,110.26 L599.2,110.20 L599.9,110.32 L600.5,110.44 L601.2,110.58 L601.9,110.74 L602.5,110.95 L603.2,111.35 L602.5,111.77 L601.9,111.99 L601.2,112.17 L600.5,112.32 L599.9,112.47 L599.2,112.60 L594.4,112.66 L593.7,112.55 L593.1,112.42 L592.4,112.28 L591.7,112.12 L591.1,111.91Z"/>
<path d="M621.5,111.11 L622.2,110.64 L622.8,110.39 L623.5,110.19 L624.2,110.01 L624.8,109.85 L625.5,109.70 L627.1,109.68 L627.8,109.81 L628.4,109.96 L629.1,110.12 L629.8,110.30 L630.4,110.53 L631.1,110.99 L630.4,111.46 L629.8,111.71 L629.1,111.91 L628.4,112.09 L627.8,112.25 L627.1,112.40 L625.5,112.42 L624.8,112.29 L624.2,112.14 L623.5,111.98 L622.8,111.80 L622.2,111.57Z"/>
<path d="M632.7,110.97 L633.7,110.41 L634.7,110.11 L635.7,109.87 L636.7,109.66 L637.7,109.47 L638.7,109.29 L649.8,109.15 L650.8,109.30 L651.8,109.47 L652.8,109.65 L653.8,109.87 L654.8,110.14 L655.8,110.67 L654.8,111.23 L653.8,111.52 L652.8,111.76 L651.8,111.98 L650.8,112.17 L649.8,112.35 L638.7,112.49 L637.7,112.34 L636.7,112.17 L635.7,111.98 L634.7,111.77 L633.7,111.50Z"/>
<path d="M658.2,110.64 L659.2,109.97 L660.2,109.62 L661.2,109.33 L662.2,109.08 L663.2,108.85 L664.2,108.64 L673.0,108.53 L674.0,108.71 L675.0,108.92 L676.0,109.14 L677.0,109.40 L678.0,109.73 L679.0,110.37 L678.0,111.04 L677.0,111.39 L676.0,111.68 L675.0,111.93 L674.0,112.16 L673.0,112.37 L664.2,112.48 L663.2,112.29 L662.2,112.09 L661.2,111.87 L660.2,111.61 L659.2,111.28Z"/>
<path d="M679.8,110.36 L680.8,109.80 L681.8,109.51 L682.8,109.27 L683.8,109.05 L684.8,108.86 L685.8,108.68 L695.3,108.56 L696.3,108.71 L697.3,108.88 L698.3,109.07 L699.3,109.28 L700.3,109.55 L701.3,110.08 L700.3,110.64 L699.3,110.94 L698.3,111.18 L697.3,111.39 L696.3,111.58 L695.3,111.76 L685.8,111.88 L684.8,111.73 L683.8,111.56 L682.8,111.38 L681.8,111.16 L680.8,110.89Z"/>
<path d="M712.5,109.94 L713.5,109.30 L714.5,108.96 L715.5,108.68 L716.5,108.44 L717.5,108.22 L718.5,108.02 L724.0,107.95 L725.0,108.13 L726.0,108.32 L727.0,108.54 L728.0,108.79 L729.0,109.10 L730.0,109.71 L729.0,110.35 L728.0,110.69 L727.0,110.96 L726.0,111.21 L725.0,111.43 L724.0,111.63 L718.5,111.70 L717.5,111.52 L716.5,111.33 L715.5,111.11 L714.5,110.86 L713.5,110.55Z"/>
<path d="M730.8,109.70 L731.8,109.01 L732.8,108.64 L733.8,108.34 L734.8,108.08 L735.8,107.84 L736.8,107.62 L751.1,107.44 L752.1,107.63 L753.1,107.84 L754.1,108.08 L755.1,108.35 L756.1,108.69 L757.1,109.36 L756.1,110.06 L755.1,110.42 L754.1,110.72 L753.1,110.98 L752.1,111.22 L751.1,111.44 L736.8,111.62 L735.8,111.43 L734.8,111.22 L733.8,110.98 L732.8,110.71 L731.8,110.37Z"/>
<path d="M759.5,109.33 L759.8,108.92 L760.2,108.70 L760.5,108.53 L760.8,108.37 L761.2,108.23 L761.5,108.10 L762.3,108.09 L762.6,108.21 L763.0,108.34 L763.3,108.49 L763.6,108.66 L764.0,108.86 L764.3,109.27 L764.0,109.68 L763.6,109.90 L763.3,110.07 L763.0,110.23 L762.6,110.37 L762.3,110.49 L761.5,110.50 L761.2,110.38 L760.8,110.25 L760.5,110.11 L760.2,109.94 L759.8,109.74Z"/>
<path d="M765.1,109.26 L766.1,108.70 L767.1,108.40 L768.1,108.16 L769.1,107.95 L770.1,107.76 L771.1,107.58 L777.5,107.50 L778.5,107.65 L779.5,107.82 L780.5,108.00 L781.5,108.22 L782.5,108.49 L783.5,109.02 L782.5,109.58 L781.5,109.87 L780.5,110.11 L779.5,110.33 L778.5,110.52 L777.5,110.70 L771.1,110.78 L770.1,110.63 L769.1,110.46 L768.1,110.28 L767.1,110.06 L766.1,109.79Z"/>
<path d="M783.5,109.02 L784.3,108.38 L785.2,108.05 L786.0,107.77 L786.8,107.53 L787.7,107.32 L788.5,107.12 L796.8,107.01 L797.6,107.19 L798.5,107.38 L799.3,107.60 L800.1,107.85 L801.0,108.17 L801.8,108.78 L801.0,109.42 L800.1,109.76 L799.3,110.03 L798.5,110.27 L797.6,110.49 L796.8,110.69 L788.5,110.80 L787.7,110.62 L786.8,110.42 L786.0,110.20 L785.2,109.95 L784.3,109.64Z"/>
<path d="M802.6,108.77 L803.4,108.14 L804.3,107.80 L805.1,107.53 L805.9,107.29 L806.8,107.07 L807.6,106.87 L817.5,106.74 L818.3,106.92 L819.2,107.12 L820.0,107.34 L820.8,107.59 L821.7,107.90 L822.5,108.52 L821.7,109.16 L820.8,109.49 L820.0,109.76 L819.2,110.00 L818.3,110.22 L817.5,110.42 L807.6,110.55 L806.8,110.37 L805.9,110.17 L805.1,109.96 L804.3,109.70 L803.4,109.39Z"/>
<path d="M823.4,108.51 L824.4,107.81 L825.4,107.45 L826.4,107.15 L827.4,106.89 L828.4,106.65 L829.4,106.43 L842.1,106.26 L843.1,106.46 L844.1,106.67 L845.1,106.91 L846.1,107.18 L847.1,107.52 L848.1,108.19 L847.1,108.88 L846.1,109.25 L845.1,109.54 L844.1,109.81 L843.1,110.04 L842.1,110.26 L829.4,110.43 L828.4,110.23 L827.4,110.02 L826.4,109.79 L825.4,109.51 L824.4,109.18Z"/>
<path d="M851.3,108.15 L852.3,107.45 L853.3,107.08 L854.3,106.79 L855.3,106.53 L856.3,106.29 L857.3,106.07 L878.8,105.79 L879.8,105.98 L880.8,106.20 L881.8,106.43 L882.8,106.70 L883.8,107.04 L884.8,107.71 L883.8,108.41 L882.8,108.77 L881.8,109.07 L880.8,109.33 L879.8,109.57 L878.8,109.79 L857.3,110.07 L856.3,109.87 L855.3,109.66 L854.3,109.43 L853.3,109.15 L852.3,108.81Z"/>
<path d="M884.8,107.71 L885.8,107.02 L886.8,106.65 L887.8,106.35 L888.8,106.09 L889.8,105.86 L890.8,105.64 L901.1,105.50 L902.1,105.70 L903.1,105.91 L904.1,106.14 L905.1,106.42 L906.1,106.76 L907.1,107.42 L906.1,108.12 L905.1,108.49 L904.1,108.78 L903.1,109.04 L902.1,109.28 L901.1,109.50 L890.8,109.64 L889.8,109.44 L888.8,109.23 L887.8,108.99 L886.8,108.72 L885.8,108.38Z"/>
<path d="M908.7,107.40 L909.7,106.71 L910.7,106.34 L911.7,106.05 L912.7,105.78 L913.7,105.55 L914.7,105.33 L933.0,105.09 L933.8,105.29 L934.7,105.50 L935.5,105.74 L936.3,106.01 L937.2,106.35 L938.0,107.03 L937.2,107.72 L936.3,108.08 L935.5,108.38 L934.7,108.64 L933.8,108.87 L933.0,109.09 L914.7,109.33 L913.7,109.13 L912.7,108.92 L911.7,108.68 L910.7,108.41 L909.7,108.07Z"/>
</g>
<g fill="none" stroke-width="2.6">
<line x1="119" y1="144.77" x2="939.93" y2="134.61" stroke="#000"/>
<line x1="119" y1="144.77" x2="939.93" y2="134.61" stroke="#fff" stroke-dasharray="10.1 9.9"/>
<line x1="119" y1="160.44" x2="939.93" y2="150.28" stroke="#000"/>
<line x1="119" y1="160.44" x2="939.93" y2="150.28" stroke="#fff" stroke-dasharray="10.1 9.9"/>
<line x1="119" y1="181.01" x2="939.93" y2="170.86" stroke="#000"/>
<line x1="119" y1="181.01" x2="939.93" y2="170.86" stroke="#fff" stroke-dasharray="10.1 9.9"/>
<line x1="119" y1="196.68" x2="939.93" y2="186.53" stroke="#000"/>
<line x1="119" y1="196.68" x2="939.93" y2="186.53" stroke="#fff" stroke-dasharray="10.1 9.9"/>
<line x1="119" y1="219.81" x2="939.93" y2="210.01" stroke="#000"/>
<line x1="119" y1="219.81" x2="939.93" y2="210.01" stroke="#fff" stroke-dasharray="10.1 9.9"/>
<line x1="119" y1="235.48" x2="939.93" y2="225.68" stroke="#000"/>
<line x1="119" y1="235.48" x2="939.93" y2="225.68" stroke="#fff" stroke-dasharray="10.1 9.9"/>
<line x1="119" y1="255.72" x2="939.93" y2="245.91" stroke="#000"/>
<line x1="119" y1="255.72" x2="939.93" y2="245.91" stroke="#fff" stroke-dasharray="10.1 9.9"/>
<line x1="119" y1="271.38" x2="939.93" y2="261.58" stroke="#000"/>
<line x1="119" y1="271.38" x2="939.93" y2="261.58" stroke="#fff" stroke-dasharray="10.1 9.9"/>
<line x1="119" y1="305.37" x2="939.93" y2="295.87" stroke="#000"/>
<line x1="119" y1="305.37" x2="939.93" y2="295.87" stroke="#fff" stroke-dasharray="10.1 9.9"/>
<line x1="119" y1="321.04" x2="939.93" y2="311.54" stroke="#000"/>
<line x1="119" y1="321.04" x2="939.93" y2="311.54" stroke="#fff" stroke-dasharray="10.1 9.9"/>
<line x1="119" y1="341.47" x2="939.93" y2="332.06" stroke="#000"/>
<line x1="119" y1="341.47" x2="939.93" y2="332.06" stroke="#fff" stroke-dasharray="10.1 9.9"/>
<line x1="119" y1="357.14" x2="939.93" y2="347.74" stroke="#000"/>
<line x1="119" y1="357.14" x2="939.93" y2="347.74" stroke="#fff" stroke-dasharray="10.1 9.9"/>
<line x1="119" y1="403.47" x2="939.93" y2="394.47" stroke="#000"/>
<line x1="119" y1="403.47" x2="939.93" y2="394.47" stroke="#fff" stroke-dasharray="10.1 9.9"/>
<line x1="119" y1="419.14" x2="939.93" y2="410.14" stroke="#000"/>
<line x1="119" y1="419.14" x2="939.93" y2="410.14" stroke="#fff" stroke-dasharray="10.1 9.9"/>
<line x1="119" y1="439.71" x2="939.93" y2="430.56" stroke="#000"/>
<line x1="119" y1="439.71" x2="939.93" y2="430.56" stroke="#fff" stroke-dasharray="10.1 9.9"/>
<line x1="119" y1="455.38" x2="939.93" y2="446.24" stroke="#000"/>
<line x1="119" y1="455.38" x2="939.93" y2="446.24" stroke="#fff" stroke-dasharray="10.1 9.9"/>
<line x1="119" y1="517.37" x2="939.93" y2="509.02" stroke="#000"/>
<line x1="119" y1="517.37" x2="939.93" y2="509.02" stroke="#fff" stroke-dasharray="10.1 9.9"/>
<line x1="119" y1="533.03" x2="939.93" y2="524.69" stroke="#000"/>
<line x1="119" y1="533.03" x2="939.93" y2="524.69" stroke="#fff" stroke-dasharray="10.1 9.9"/>
<line x1="119" y1="553.81" x2="939.93" y2="545.06" stroke="#000"/>
<line x1="119" y1="553.81" x2="939.93" y2="545.06" stroke="#fff" stroke-dasharray="10.1 9.9"/>
<line x1="119" y1="569.48" x2="939.93" y2="560.73" stroke="#000"/>
<line x1="119" y1="569.48" x2="939.93" y2="560.73" stroke="#fff" stroke-dasharray="10.1 9.9"/>
<line x1="119" y1="652.51" x2="939.93" y2="644.62" stroke="#000"/>
<line x1="119" y1="652.51" x2="939.93" y2="644.62" stroke="#fff" stroke-dasharray="10.1 9.9"/>
<line x1="119" y1="668.18" x2="939.93" y2="660.28" stroke="#000"/>
<line x1="119" y1="668.18" x2="939.93" y2="660.28" stroke="#fff" stroke-dasharray="10.1 9.9"/>
<line x1="119" y1="689.07" x2="939.93" y2="681.32" stroke="#000"/>
<line x1="119" y1="689.07" x2="939.93" y2="681.32" stroke="#fff" stroke-dasharray="10.1 9.9"/>
<line x1="119" y1="704.74" x2="939.93" y2="696.99" stroke="#000"/>
<line x1="119" y1="704.74" x2="939.93" y2="696.99" stroke="#fff" stroke-dasharray="10.1 9.9"/>
</g>
</g>
<rect x="119" y="99.85" width="820.93" height="713.05" fill="none" stroke="#000" stroke-width="1.67"/>
<g stroke="#000" stroke-width="1.67">
<line x1="119.2" y1="812.9" x2="119.2" y2="820.2"/>
<line x1="111.7" y1="812.2" x2="119" y2="812.2"/>
<line x1="219.41" y1="812.9" x2="219.41" y2="820.2"/>
<line x1="111.7" y1="725.18" x2="119" y2="725.18"/>
<line x1="319.63" y1="812.9" x2="319.63" y2="820.2"/>
<line x1="111.7" y1="638.15" x2="119" y2="638.15"/>
<line x1="419.84" y1="812.9" x2="419.84" y2="820.2"/>
<line x1="111.7" y1="551.12" x2="119" y2="551.12"/>
<line x1="520.05" y1="812.9" x2="520.05" y2="820.2"/>
<line x1="111.7" y1="464.1" x2="119" y2="464.1"/>
<line x1="620.26" y1="812.9" x2="620.26" y2="820.2"/>
<line x1="111.7" y1="377.08" x2="119" y2="377.08"/>
<line x1="720.48" y1="812.9" x2="720.48" y2="820.2"/>
<line x1="111.7" y1="290.05" x2="119" y2="290.05"/>
<line x1="820.69" y1="812.9" x2="820.69" y2="820.2"/>
<line x1="111.7" y1="203.02" x2="119" y2="203.02"/>
<line x1="920.9" y1="812.9" x2="920.9" y2="820.2"/>
<line x1="111.7" y1="116" x2="119" y2="116"/>
</g>
<text x="112.84" y="842.80" font-size="21.60" textLength="12.63" lengthAdjust="spacingAndGlyphs" xml:space="preserve">0</text>
<text x="199.53" y="842.80" font-size="21.60" textLength="39.50" lengthAdjust="spacingAndGlyphs" xml:space="preserve">250</text>
<text x="299.98" y="842.80" font-size="21.60" textLength="39.25" lengthAdjust="spacingAndGlyphs" xml:space="preserve">500</text>
<text x="399.95" y="842.80" font-size="21.60" textLength="39.50" lengthAdjust="spacingAndGlyphs" xml:space="preserve">750</text>
<text x="493.36" y="842.80" font-size="21.60" textLength="52.44" lengthAdjust="spacingAndGlyphs" xml:space="preserve">1000</text>
<text x="593.57" y="842.80" font-size="21.60" textLength="52.44" lengthAdjust="spacingAndGlyphs" xml:space="preserve">1250</text>
<text x="693.78" y="842.80" font-size="21.60" textLength="52.44" lengthAdjust="spacingAndGlyphs" xml:space="preserve">1500</text>
<text x="794.00" y="842.80" font-size="21.60" textLength="52.44" lengthAdjust="spacingAndGlyphs" xml:space="preserve">1750</text>
<text x="894.39" y="842.80" font-size="21.60" textLength="52.65" lengthAdjust="spacingAndGlyphs" xml:space="preserve">2000</text>
<text x="506.17" y="871.30" font-size="21.30" textLength="48.29" lengthAdjust="spacingAndGlyphs" xml:space="preserve">pixel</text>
<text x="492.86" y="86.70" font-size="25.10" textLength="72.86" lengthAdjust="spacingAndGlyphs" xml:space="preserve">CHIP1</text>
<g clip-path="url(#c1)">
<rect x="982.02" y="99.85" width="820.91" height="713.05" fill="#260996" filter="url(#nd)"/>
<g filter="url(#nz)" fill="#5a09a2">
<polygon points="972.02,383.7 1812.93,374.7 1812.93,437.5 972.02,447.8"/>
<polygon points="972.02,500.3 1812.93,490.6 1812.93,553.5 972.02,562.2"/>
<polygon points="972.02,633.8 1812.93,625.8 1812.93,690.2 972.02,698.3"/>
</g>
<polygon filter="url(#bb)" fill="#c8508a" opacity="0.03" points="972.02,383.7 1812.93,374.7 1812.93,437.5 972.02,447.8"/>
<polygon filter="url(#bb)" fill="#c8508a" opacity="0.06" points="972.02,500.3 1812.93,490.6 1812.93,553.5 972.02,562.2"/>
<polygon filter="url(#bb)" fill="#c8508a" opacity="0.1" points="972.02,633.8 1812.93,625.8 1812.93,690.2 972.02,698.3"/>
<clipPath id="sk1_2"><polygon points="972.02,633.8 1812.93,625.8 1812.93,690.2 972.02,698.3"/></clipPath>
<g clip-path="url(#sk1_2)"><g filter="url(#bsk)" fill="#e0707a">
<rect x="1113" y="620.8" width="74" height="82.5" opacity="0.234"/>
<rect x="1258" y="620.8" width="10" height="82.5" opacity="0.195"/>
<rect x="1339" y="620.8" width="6" height="82.5" opacity="0.195"/>
<rect x="1516" y="620.8" width="10" height="82.5" opacity="0.195"/>
<rect x="1635" y="620.8" width="26" height="82.5" opacity="0.182"/>
<rect x="1735" y="620.8" width="23" height="82.5" opacity="0.182"/>
</g></g>
<clipPath id="sk1_1"><polygon points="972.02,500.3 1812.93,490.6 1812.93,553.5 972.02,562.2"/></clipPath>
<g clip-path="url(#sk1_1)"><g filter="url(#bsk)" fill="#e0707a">
<rect x="1274" y="485.6" width="16" height="81.6" opacity="0.208"/>
</g></g>
<g filter="url(#bb)" fill="#4a08a0" opacity="0.55">
<polygon points="972.02,124.7 1812.93,114.4 1812.93,131.4 972.02,141.7"/>
<polygon points="972.02,160.7 1812.93,150.4 1812.93,167.4 972.02,177.7"/>
<polygon points="972.02,200.4 1812.93,190.1 1812.93,207.1 972.02,217.4"/>
<polygon points="972.02,236.5 1812.93,226.1 1812.93,243.1 972.02,253.5"/>
<polygon points="972.02,286.4 1812.93,276.1 1812.93,293.1 972.02,303.4"/>
<polygon points="972.02,322.8 1812.93,312.5 1812.93,329.5 972.02,339.8"/>
</g>
<g filter="url(#bh)" stroke="#8c0ba4" fill="none" opacity="0.8">
<line x1="977.02" y1="136.51" x2="1807.93" y2="126.39" stroke-width="9.0"/>
<line x1="977.02" y1="212.91" x2="1807.93" y2="202.49" stroke-width="9.0"/>
<line x1="977.02" y1="298.31" x2="1807.93" y2="288.49" stroke-width="9.0"/>
</g>
<g filter="url(#bm)" stroke="#e9636a" fill="none">
<line x1="977.02" y1="136.51" x2="1807.93" y2="126.39" stroke-width="5.0"/>
<line x1="977.02" y1="212.91" x2="1807.93" y2="202.49" stroke-width="5.0"/>
<line x1="977.02" y1="298.31" x2="1807.93" y2="288.49" stroke-width="5.0"/>
</g>
<g stroke="#f0f921" fill="none">
<line x1="977.02" y1="136.51" x2="1807.93" y2="126.39" stroke-width="3.5"/>
<line x1="977.02" y1="212.91" x2="1807.93" y2="202.49" stroke-width="3.5"/>
<line x1="977.02" y1="298.31" x2="1807.93" y2="288.49" stroke-width="3.5"/>
</g>
<g filter="url(#bh)" stroke="#8c0ba4" fill="none" opacity="0.85">
<line x1="977.02" y1="173.92" x2="1807.93" y2="162.88" stroke-width="11.0"/>
<line x1="977.02" y1="249.01" x2="1807.93" y2="238.89" stroke-width="11.0"/>
<line x1="977.02" y1="334.71" x2="1807.93" y2="324.59" stroke-width="11.0"/>
</g>
<g filter="url(#bm)" stroke="#ec6f5c" fill="none">
<line x1="977.02" y1="173.92" x2="1807.93" y2="162.88" stroke-width="6.4"/>
<line x1="977.02" y1="249.01" x2="1807.93" y2="238.89" stroke-width="6.4"/>
<line x1="977.02" y1="334.71" x2="1807.93" y2="324.59" stroke-width="6.4"/>
</g>
<g stroke="#f0f921" fill="none">
<line x1="977.02" y1="173.92" x2="1807.93" y2="162.88" stroke-width="4.3"/>
<line x1="977.02" y1="249.01" x2="1807.93" y2="238.89" stroke-width="4.3"/>
<line x1="977.02" y1="334.71" x2="1807.93" y2="324.59" stroke-width="4.3"/>
</g>
<g filter="url(#bh)" stroke="#8c0ba4" fill="none" opacity="0.45">
<line x1="977.02" y1="511.9" x2="995.7" y2="511.7" stroke-width="7"/>
<line x1="998.9" y1="511.66" x2="1092.4" y2="510.64" stroke-width="7"/>
<line x1="1095.6" y1="510.6" x2="1239" y2="509.03" stroke-width="7"/>
<line x1="1242.2" y1="509" x2="1272" y2="508.67" stroke-width="7"/>
<line x1="1289" y1="508.48" x2="1314.7" y2="508.2" stroke-width="7"/>
<line x1="1317.9" y1="508.17" x2="1491.9" y2="506.26" stroke-width="7"/>
<line x1="1495.1" y1="506.23" x2="1752.8" y2="503.4" stroke-width="7"/>
<line x1="1756" y1="503.37" x2="1807.93" y2="502.8" stroke-width="7"/>
<line x1="977.02" y1="548.3" x2="994.1" y2="548.12" stroke-width="7"/>
<line x1="997.3" y1="548.08" x2="1240.6" y2="545.42" stroke-width="7"/>
<line x1="1243.8" y1="545.38" x2="1279" y2="544.99" stroke-width="7"/>
<line x1="1286" y1="544.92" x2="1495.1" y2="542.63" stroke-width="7"/>
<line x1="1498.3" y1="542.59" x2="1756" y2="539.77" stroke-width="7"/>
<line x1="1759.2" y1="539.73" x2="1807.93" y2="539.2" stroke-width="7"/>
<line x1="1113.3" y1="683.35" x2="1654.5" y2="678.02" stroke-width="7"/>
<line x1="1683.5" y1="677.73" x2="1706" y2="677.51" stroke-width="7"/>
<line x1="1719" y1="677.38" x2="1803" y2="676.55" stroke-width="7"/>
</g>
<g filter="url(#bm)" stroke="#e9636a" fill="none">
<line x1="977.02" y1="511.9" x2="995.7" y2="511.7" stroke-width="3.8"/>
<line x1="998.9" y1="511.66" x2="1092.4" y2="510.64" stroke-width="3.8"/>
<line x1="1095.6" y1="510.6" x2="1239" y2="509.03" stroke-width="3.8"/>
<line x1="1242.2" y1="509" x2="1272" y2="508.67" stroke-width="3.8"/>
<line x1="1289" y1="508.48" x2="1314.7" y2="508.2" stroke-width="3.8"/>
<line x1="1317.9" y1="508.17" x2="1491.9" y2="506.26" stroke-width="3.8"/>
<line x1="1495.1" y1="506.23" x2="1752.8" y2="503.4" stroke-width="3.8"/>
<line x1="1756" y1="503.37" x2="1807.93" y2="502.8" stroke-width="3.8"/>
<line x1="977.02" y1="548.3" x2="994.1" y2="548.12" stroke-width="3.8"/>
<line x1="997.3" y1="548.08" x2="1240.6" y2="545.42" stroke-width="3.8"/>
<line x1="1243.8" y1="545.38" x2="1279" y2="544.99" stroke-width="3.8"/>
<line x1="1286" y1="544.92" x2="1495.1" y2="542.63" stroke-width="3.8"/>
<line x1="1498.3" y1="542.59" x2="1756" y2="539.77" stroke-width="3.8"/>
<line x1="1759.2" y1="539.73" x2="1807.93" y2="539.2" stroke-width="3.8"/>
<line x1="1113.3" y1="683.35" x2="1654.5" y2="678.02" stroke-width="3.8"/>
<line x1="1683.5" y1="677.73" x2="1706" y2="677.51" stroke-width="3.8"/>
<line x1="1719" y1="677.38" x2="1803" y2="676.55" stroke-width="3.8"/>
</g>
<g stroke="#f0f921" fill="none">
<line x1="977.02" y1="511.9" x2="995.7" y2="511.7" stroke-width="2.4"/>
<line x1="998.9" y1="511.66" x2="1092.4" y2="510.64" stroke-width="2.4"/>
<line x1="1095.6" y1="510.6" x2="1239" y2="509.03" stroke-width="2.4"/>
<line x1="1242.2" y1="509" x2="1272" y2="508.67" stroke-width="2.4"/>
<line x1="1289" y1="508.48" x2="1314.7" y2="508.2" stroke-width="2.4"/>
<line x1="1317.9" y1="508.17" x2="1491.9" y2="506.26" stroke-width="2.4"/>
<line x1="1495.1" y1="506.23" x2="1752.8" y2="503.4" stroke-width="2.4"/>
<line x1="1756" y1="503.37" x2="1807.93" y2="502.8" stroke-width="2.4"/>
<line x1="977.02" y1="548.3" x2="994.1" y2="548.12" stroke-width="2.4"/>
<line x1="997.3" y1="548.08" x2="1240.6" y2="545.42" stroke-width="2.4"/>
<line x1="1243.8" y1="545.38" x2="1279" y2="544.99" stroke-width="2.4"/>
<line x1="1286" y1="544.92" x2="1495.1" y2="542.63" stroke-width="2.4"/>
<line x1="1498.3" y1="542.59" x2="1756" y2="539.77" stroke-width="2.4"/>
<line x1="1759.2" y1="539.73" x2="1807.93" y2="539.2" stroke-width="2.4"/>
<line x1="1113.3" y1="683.35" x2="1654.5" y2="678.02" stroke-width="2.4"/>
<line x1="1683.5" y1="677.73" x2="1706" y2="677.51" stroke-width="2.4"/>
<line x1="1719" y1="677.38" x2="1803" y2="676.55" stroke-width="2.4"/>
</g>
<g filter="url(#bh)" stroke="#9c179e" fill="none" opacity="0.25">
<line x1="1190.6" y1="645.69" x2="1255" y2="645.06" stroke-width="4"/>
<line x1="1264.7" y1="644.96" x2="1335.6" y2="644.26" stroke-width="4"/>
<line x1="1342" y1="644.2" x2="1516" y2="642.48" stroke-width="4"/>
<line x1="1522.5" y1="642.42" x2="1628.8" y2="641.37" stroke-width="4"/>
<line x1="1744.8" y1="640.22" x2="1803" y2="639.65" stroke-width="4"/>
</g>
<g filter="url(#bm)" stroke="#d0487a" fill="none">
<line x1="1190.6" y1="645.69" x2="1255" y2="645.06" stroke-width="2.2"/>
<line x1="1264.7" y1="644.96" x2="1335.6" y2="644.26" stroke-width="2.2"/>
<line x1="1342" y1="644.2" x2="1516" y2="642.48" stroke-width="2.2"/>
<line x1="1522.5" y1="642.42" x2="1628.8" y2="641.37" stroke-width="2.2"/>
<line x1="1744.8" y1="640.22" x2="1803" y2="639.65" stroke-width="2.2"/>
</g>
<g stroke="#f8a03a" fill="none">
<line x1="1190.6" y1="645.69" x2="1255" y2="645.06" stroke-width="1.1"/>
<line x1="1264.7" y1="644.96" x2="1335.6" y2="644.26" stroke-width="1.1"/>
<line x1="1342" y1="644.2" x2="1516" y2="642.48" stroke-width="1.1"/>
<line x1="1522.5" y1="642.42" x2="1628.8" y2="641.37" stroke-width="1.1"/>
<line x1="1744.8" y1="640.22" x2="1803" y2="639.65" stroke-width="1.1"/>
</g>
<g filter="url(#bm)" stroke="#5a0aa0" fill="none" opacity="0.6"><line x1="982" y1="797" x2="1803" y2="795.5" stroke-width="2"/></g>
<g filter="url(#bh)" stroke="#7a0ba6" fill="none" opacity="0.55"><line x1="1560" y1="102.6" x2="1810" y2="101.6" stroke-width="7"/></g>
<g filter="url(#bh)" fill="#9a179b" opacity="0.8">
<path d="M975.0,105.83 L975.0,96.23 L1148.5,95.39 L1150.2,96.38 L1151.8,97.45 L1153.5,98.63 L1155.2,99.99 L1156.8,101.67 L1158.5,104.94 L1156.8,108.22 L1155.2,109.92 L1153.5,111.30 L1151.8,112.50 L1150.2,113.59 L1148.5,114.59 L975.0,115.43Z"/>
<path d="M1167.0,104.90 L1168.7,102.13 L1170.3,100.69 L1172.0,99.53 L1173.7,98.52 L1175.3,97.60 L1177.0,96.75 L1302.7,96.14 L1305.0,96.97 L1307.4,97.86 L1309.7,98.86 L1312.0,100.00 L1314.4,101.42 L1316.7,104.17 L1314.4,106.95 L1312.0,108.38 L1309.7,109.55 L1307.4,110.57 L1305.0,111.49 L1302.7,112.34 L1177.0,112.95 L1175.3,112.12 L1173.7,111.22 L1172.0,110.22 L1170.3,109.07 L1168.7,107.65Z"/>
<path d="M1317.0,104.17 L1318.0,102.42 L1319.0,101.52 L1320.0,100.79 L1321.0,100.15 L1322.0,99.57 L1323.0,99.04 L1352.0,98.90 L1353.0,99.42 L1354.0,99.99 L1355.0,100.62 L1356.0,101.34 L1357.0,102.23 L1358.0,103.97 L1357.0,105.71 L1356.0,106.62 L1355.0,107.35 L1354.0,107.99 L1353.0,108.56 L1352.0,109.10 L1323.0,109.24 L1322.0,108.72 L1321.0,108.15 L1320.0,107.52 L1319.0,106.80 L1318.0,105.90Z"/>
<path d="M1359.0,103.96 L1360.0,102.42 L1361.0,101.63 L1362.0,100.98 L1363.0,100.42 L1364.0,99.91 L1365.0,99.43 L1385.0,99.34 L1386.0,99.80 L1387.0,100.30 L1388.0,100.85 L1389.0,101.49 L1390.0,102.28 L1391.0,103.81 L1390.0,105.35 L1389.0,106.14 L1388.0,106.79 L1387.0,107.36 L1386.0,107.87 L1385.0,108.34 L1365.0,108.43 L1364.0,107.97 L1363.0,107.47 L1362.0,106.92 L1361.0,106.28 L1360.0,105.49Z"/>
<path d="M1391.0,103.81 L1392.0,102.47 L1393.0,101.78 L1394.0,101.22 L1395.0,100.73 L1396.0,100.29 L1397.0,99.88 L1431.0,99.71 L1432.0,100.11 L1433.0,100.54 L1434.0,101.02 L1435.0,101.58 L1436.0,102.26 L1437.0,103.58 L1436.0,104.92 L1435.0,105.61 L1434.0,106.17 L1433.0,106.66 L1432.0,107.10 L1431.0,107.51 L1397.0,107.68 L1396.0,107.28 L1395.0,106.85 L1394.0,106.37 L1393.0,105.82 L1392.0,105.13Z"/>
<path d="M1440.0,103.57 L1440.7,102.34 L1441.3,101.70 L1442.0,101.18 L1442.7,100.73 L1443.3,100.33 L1444.0,99.95 L1461.0,99.87 L1461.7,100.24 L1462.3,100.64 L1463.0,101.08 L1463.7,101.59 L1464.3,102.22 L1465.0,103.45 L1464.3,104.68 L1463.7,105.32 L1463.0,105.83 L1462.3,106.28 L1461.7,106.69 L1461.0,107.07 L1444.0,107.15 L1443.3,106.78 L1442.7,106.38 L1442.0,105.93 L1441.3,105.42 L1440.7,104.79Z"/>
<path d="M1472.0,103.41 L1473.0,102.59 L1474.0,102.16 L1475.0,101.81 L1476.0,101.51 L1477.0,101.24 L1478.0,100.98 L1560.0,100.58 L1561.7,100.82 L1563.3,101.09 L1565.0,101.38 L1566.7,101.71 L1568.3,102.12 L1570.0,102.94 L1568.3,103.76 L1566.7,104.19 L1565.0,104.54 L1563.3,104.85 L1561.7,105.13 L1560.0,105.38 L1478.0,105.78 L1477.0,105.54 L1476.0,105.28 L1475.0,104.98 L1474.0,104.64 L1473.0,104.23Z"/>
</g>
<g filter="url(#bm)" fill="#ef7a55">
<path d="M975.0,105.83 L975.0,101.19 L1148.5,100.35 L1150.2,100.82 L1151.8,101.33 L1153.5,101.90 L1155.2,102.56 L1156.8,103.36 L1158.5,104.94 L1156.8,106.53 L1155.2,107.36 L1153.5,108.03 L1151.8,108.61 L1150.2,109.14 L1148.5,109.63 L975.0,110.47Z"/>
<path d="M1167.0,104.90 L1168.7,103.55 L1170.3,102.86 L1172.0,102.29 L1173.7,101.80 L1175.3,101.35 L1177.0,100.94 L1302.7,100.32 L1305.0,100.72 L1307.4,101.15 L1309.7,101.62 L1312.0,102.17 L1314.4,102.84 L1316.7,104.17 L1314.4,105.52 L1312.0,106.22 L1309.7,106.79 L1307.4,107.28 L1305.0,107.74 L1302.7,108.15 L1177.0,108.77 L1175.3,108.37 L1173.7,107.94 L1172.0,107.46 L1170.3,106.91 L1168.7,106.23Z"/>
<path d="M1317.0,104.17 L1318.0,103.32 L1319.0,102.88 L1320.0,102.53 L1321.0,102.22 L1322.0,101.93 L1323.0,101.67 L1352.0,101.53 L1353.0,101.78 L1354.0,102.05 L1355.0,102.36 L1356.0,102.70 L1357.0,103.13 L1358.0,103.97 L1357.0,104.81 L1356.0,105.25 L1355.0,105.61 L1354.0,105.92 L1353.0,106.20 L1352.0,106.46 L1323.0,106.60 L1322.0,106.35 L1321.0,106.08 L1320.0,105.78 L1319.0,105.43 L1318.0,105.00Z"/>
<path d="M1359.0,103.96 L1360.0,103.22 L1361.0,102.83 L1362.0,102.51 L1363.0,102.24 L1364.0,101.99 L1365.0,101.76 L1385.0,101.66 L1386.0,101.88 L1387.0,102.12 L1388.0,102.39 L1389.0,102.69 L1390.0,103.07 L1391.0,103.81 L1390.0,104.55 L1389.0,104.94 L1388.0,105.26 L1387.0,105.53 L1386.0,105.78 L1385.0,106.01 L1365.0,106.11 L1364.0,105.89 L1363.0,105.65 L1362.0,105.38 L1361.0,105.08 L1360.0,104.70Z"/>
<path d="M1391.0,103.81 L1392.0,103.16 L1393.0,102.82 L1394.0,102.55 L1395.0,102.31 L1396.0,102.09 L1397.0,101.89 L1431.0,101.73 L1432.0,101.92 L1433.0,102.12 L1434.0,102.35 L1435.0,102.62 L1436.0,102.94 L1437.0,103.58 L1436.0,104.23 L1435.0,104.57 L1434.0,104.84 L1433.0,105.08 L1432.0,105.30 L1431.0,105.50 L1397.0,105.66 L1396.0,105.47 L1395.0,105.27 L1394.0,105.04 L1393.0,104.77 L1392.0,104.45Z"/>
<path d="M1440.0,103.57 L1440.7,102.97 L1441.3,102.66 L1442.0,102.41 L1442.7,102.19 L1443.3,101.99 L1444.0,101.81 L1461.0,101.73 L1461.7,101.90 L1462.3,102.10 L1463.0,102.31 L1463.7,102.55 L1464.3,102.86 L1465.0,103.45 L1464.3,104.04 L1463.7,104.35 L1463.0,104.60 L1462.3,104.82 L1461.7,105.02 L1461.0,105.21 L1444.0,105.29 L1443.3,105.11 L1442.7,104.92 L1442.0,104.71 L1441.3,104.46 L1440.7,104.16Z"/>
<path d="M1472.0,103.41 L1473.0,103.01 L1474.0,102.80 L1475.0,102.63 L1476.0,102.48 L1477.0,102.35 L1478.0,102.22 L1560.0,101.82 L1561.7,101.94 L1563.3,102.06 L1565.0,102.19 L1566.7,102.35 L1568.3,102.55 L1570.0,102.94 L1568.3,103.34 L1566.7,103.55 L1565.0,103.72 L1563.3,103.88 L1561.7,104.02 L1560.0,104.14 L1478.0,104.54 L1477.0,104.43 L1476.0,104.30 L1475.0,104.16 L1474.0,104.00 L1473.0,103.80Z"/>
</g>
<g fill="#f0f921">
<path d="M975.0,105.83 L975.0,102.63 L1148.5,101.79 L1150.2,102.11 L1151.8,102.46 L1153.5,102.85 L1155.2,103.30 L1156.8,103.86 L1158.5,104.94 L1156.8,106.04 L1155.2,106.61 L1153.5,107.08 L1151.8,107.48 L1150.2,107.85 L1148.5,108.19 L975.0,109.03Z"/>
<path d="M1167.0,104.90 L1168.7,103.97 L1170.3,103.49 L1172.0,103.09 L1173.7,102.75 L1175.3,102.44 L1177.0,102.15 L1302.7,101.54 L1305.0,101.81 L1307.4,102.10 L1309.7,102.42 L1312.0,102.80 L1314.4,103.26 L1316.7,104.17 L1314.4,105.10 L1312.0,105.59 L1309.7,105.98 L1307.4,106.33 L1305.0,106.65 L1302.7,106.94 L1177.0,107.55 L1175.3,107.28 L1173.7,106.98 L1172.0,106.66 L1170.3,106.28 L1168.7,105.81Z"/>
<path d="M1317.0,104.17 L1318.0,103.58 L1319.0,103.28 L1320.0,103.03 L1321.0,102.82 L1322.0,102.62 L1323.0,102.44 L1352.0,102.30 L1353.0,102.47 L1354.0,102.65 L1355.0,102.86 L1356.0,103.10 L1357.0,103.39 L1358.0,103.97 L1357.0,104.55 L1356.0,104.86 L1355.0,105.10 L1354.0,105.32 L1353.0,105.52 L1352.0,105.70 L1323.0,105.84 L1322.0,105.67 L1321.0,105.48 L1320.0,105.27 L1319.0,105.04 L1318.0,104.74Z"/>
<path d="M1359.0,103.96 L1360.0,103.45 L1361.0,103.18 L1362.0,102.96 L1363.0,102.77 L1364.0,102.59 L1365.0,102.43 L1385.0,102.34 L1386.0,102.49 L1387.0,102.65 L1388.0,102.83 L1389.0,103.04 L1390.0,103.30 L1391.0,103.81 L1390.0,104.32 L1389.0,104.59 L1388.0,104.81 L1387.0,105.00 L1386.0,105.18 L1385.0,105.34 L1365.0,105.43 L1364.0,105.28 L1363.0,105.12 L1362.0,104.94 L1361.0,104.73 L1360.0,104.47Z"/>
<path d="M1391.0,103.81 L1392.0,103.36 L1393.0,103.13 L1394.0,102.94 L1395.0,102.77 L1396.0,102.62 L1397.0,102.48 L1431.0,102.31 L1432.0,102.44 L1433.0,102.58 L1434.0,102.74 L1435.0,102.92 L1436.0,103.14 L1437.0,103.58 L1436.0,104.03 L1435.0,104.27 L1434.0,104.46 L1433.0,104.62 L1432.0,104.77 L1431.0,104.91 L1397.0,105.08 L1396.0,104.95 L1395.0,104.81 L1394.0,104.65 L1393.0,104.47 L1392.0,104.25Z"/>
<path d="M1440.0,103.57 L1440.7,103.16 L1441.3,102.94 L1442.0,102.77 L1442.7,102.61 L1443.3,102.48 L1444.0,102.35 L1461.0,102.27 L1461.7,102.39 L1462.3,102.52 L1463.0,102.66 L1463.7,102.83 L1464.3,103.04 L1465.0,103.45 L1464.3,103.86 L1463.7,104.07 L1463.0,104.25 L1462.3,104.40 L1461.7,104.54 L1461.0,104.67 L1444.0,104.75 L1443.3,104.63 L1442.7,104.50 L1442.0,104.35 L1441.3,104.18 L1440.7,103.97Z"/>
<path d="M1472.0,103.41 L1473.0,103.13 L1474.0,102.99 L1475.0,102.87 L1476.0,102.77 L1477.0,102.67 L1478.0,102.58 L1560.0,102.18 L1561.7,102.26 L1563.3,102.34 L1565.0,102.43 L1566.7,102.54 L1568.3,102.67 L1570.0,102.94 L1568.3,103.22 L1566.7,103.37 L1565.0,103.49 L1563.3,103.60 L1561.7,103.69 L1560.0,103.78 L1478.0,104.18 L1477.0,104.11 L1476.0,104.02 L1475.0,103.93 L1474.0,103.82 L1473.0,103.68Z"/>
</g>
<g fill="none" stroke-width="2.6">
<line x1="982.02" y1="134.16" x2="1802.93" y2="123.36" stroke="#000"/>
<line x1="982.02" y1="134.16" x2="1802.93" y2="123.36" stroke="#fff" stroke-dasharray="10.1 9.9"/>
<line x1="982.02" y1="149.83" x2="1802.93" y2="139.03" stroke="#000"/>
<line x1="982.02" y1="149.83" x2="1802.93" y2="139.03" stroke="#fff" stroke-dasharray="10.1 9.9"/>
<line x1="982.02" y1="170.22" x2="1802.93" y2="159.41" stroke="#000"/>
<line x1="982.02" y1="170.22" x2="1802.93" y2="159.41" stroke="#fff" stroke-dasharray="10.1 9.9"/>
<line x1="982.02" y1="185.88" x2="1802.93" y2="175.08" stroke="#000"/>
<line x1="982.02" y1="185.88" x2="1802.93" y2="175.08" stroke="#fff" stroke-dasharray="10.1 9.9"/>
<line x1="982.02" y1="209.72" x2="1802.93" y2="199.06" stroke="#000"/>
<line x1="982.02" y1="209.72" x2="1802.93" y2="199.06" stroke="#fff" stroke-dasharray="10.1 9.9"/>
<line x1="982.02" y1="225.38" x2="1802.93" y2="214.73" stroke="#000"/>
<line x1="982.02" y1="225.38" x2="1802.93" y2="214.73" stroke="#fff" stroke-dasharray="10.1 9.9"/>
<line x1="982.02" y1="245.76" x2="1802.93" y2="235.26" stroke="#000"/>
<line x1="982.02" y1="245.76" x2="1802.93" y2="235.26" stroke="#fff" stroke-dasharray="10.1 9.9"/>
<line x1="982.02" y1="261.44" x2="1802.93" y2="250.93" stroke="#000"/>
<line x1="982.02" y1="261.44" x2="1802.93" y2="250.93" stroke="#fff" stroke-dasharray="10.1 9.9"/>
<line x1="982.02" y1="295.52" x2="1802.93" y2="285.06" stroke="#000"/>
<line x1="982.02" y1="295.52" x2="1802.93" y2="285.06" stroke="#fff" stroke-dasharray="10.1 9.9"/>
<line x1="982.02" y1="311.19" x2="1802.93" y2="300.74" stroke="#000"/>
<line x1="982.02" y1="311.19" x2="1802.93" y2="300.74" stroke="#fff" stroke-dasharray="10.1 9.9"/>
<line x1="982.02" y1="331.97" x2="1802.93" y2="321.47" stroke="#000"/>
<line x1="982.02" y1="331.97" x2="1802.93" y2="321.47" stroke="#fff" stroke-dasharray="10.1 9.9"/>
<line x1="982.02" y1="347.64" x2="1802.93" y2="337.14" stroke="#000"/>
<line x1="982.02" y1="347.64" x2="1802.93" y2="337.14" stroke="#fff" stroke-dasharray="10.1 9.9"/>
<line x1="982.02" y1="394.02" x2="1802.93" y2="384.17" stroke="#000"/>
<line x1="982.02" y1="394.02" x2="1802.93" y2="384.17" stroke="#fff" stroke-dasharray="10.1 9.9"/>
<line x1="982.02" y1="409.69" x2="1802.93" y2="399.84" stroke="#000"/>
<line x1="982.02" y1="409.69" x2="1802.93" y2="399.84" stroke="#fff" stroke-dasharray="10.1 9.9"/>
<line x1="982.02" y1="430.42" x2="1802.93" y2="420.56" stroke="#000"/>
<line x1="982.02" y1="430.42" x2="1802.93" y2="420.56" stroke="#fff" stroke-dasharray="10.1 9.9"/>
<line x1="982.02" y1="446.09" x2="1802.93" y2="436.24" stroke="#000"/>
<line x1="982.02" y1="446.09" x2="1802.93" y2="436.24" stroke="#fff" stroke-dasharray="10.1 9.9"/>
<line x1="982.02" y1="508.96" x2="1802.93" y2="499.81" stroke="#000"/>
<line x1="982.02" y1="508.96" x2="1802.93" y2="499.81" stroke="#fff" stroke-dasharray="10.1 9.9"/>
<line x1="982.02" y1="524.63" x2="1802.93" y2="515.49" stroke="#000"/>
<line x1="982.02" y1="524.63" x2="1802.93" y2="515.49" stroke="#fff" stroke-dasharray="10.1 9.9"/>
<line x1="982.02" y1="545.12" x2="1802.93" y2="535.87" stroke="#000"/>
<line x1="982.02" y1="545.12" x2="1802.93" y2="535.87" stroke="#fff" stroke-dasharray="10.1 9.9"/>
<line x1="982.02" y1="560.78" x2="1802.93" y2="551.53" stroke="#000"/>
<line x1="982.02" y1="560.78" x2="1802.93" y2="551.53" stroke="#fff" stroke-dasharray="10.1 9.9"/>
<line x1="982.02" y1="644.62" x2="1802.93" y2="636.37" stroke="#000"/>
<line x1="982.02" y1="644.62" x2="1802.93" y2="636.37" stroke="#fff" stroke-dasharray="10.1 9.9"/>
<line x1="982.02" y1="660.28" x2="1802.93" y2="652.03" stroke="#000"/>
<line x1="982.02" y1="660.28" x2="1802.93" y2="652.03" stroke="#fff" stroke-dasharray="10.1 9.9"/>
<line x1="982.02" y1="681.32" x2="1802.93" y2="673.26" stroke="#000"/>
<line x1="982.02" y1="681.32" x2="1802.93" y2="673.26" stroke="#fff" stroke-dasharray="10.1 9.9"/>
<line x1="982.02" y1="696.99" x2="1802.93" y2="688.93" stroke="#000"/>
<line x1="982.02" y1="696.99" x2="1802.93" y2="688.93" stroke="#fff" stroke-dasharray="10.1 9.9"/>
</g>
</g>
<rect x="982.02" y="99.85" width="820.91" height="713.05" fill="none" stroke="#000" stroke-width="1.67"/>
<g stroke="#000" stroke-width="1.67">
<line x1="982.22" y1="812.9" x2="982.22" y2="820.2"/>
<line x1="974.72" y1="812.2" x2="982.02" y2="812.2"/>
<line x1="1082.43" y1="812.9" x2="1082.43" y2="820.2"/>
<line x1="974.72" y1="725.18" x2="982.02" y2="725.18"/>
<line x1="1182.65" y1="812.9" x2="1182.65" y2="820.2"/>
<line x1="974.72" y1="638.15" x2="982.02" y2="638.15"/>
<line x1="1282.86" y1="812.9" x2="1282.86" y2="820.2"/>
<line x1="974.72" y1="551.12" x2="982.02" y2="551.12"/>
<line x1="1383.07" y1="812.9" x2="1383.07" y2="820.2"/>
<line x1="974.72" y1="464.1" x2="982.02" y2="464.1"/>
<line x1="1483.28" y1="812.9" x2="1483.28" y2="820.2"/>
<line x1="974.72" y1="377.08" x2="982.02" y2="377.08"/>
<line x1="1583.5" y1="812.9" x2="1583.5" y2="820.2"/>
<line x1="974.72" y1="290.05" x2="982.02" y2="290.05"/>
<line x1="1683.71" y1="812.9" x2="1683.71" y2="820.2"/>
<line x1="974.72" y1="203.02" x2="982.02" y2="203.02"/>
<line x1="1783.92" y1="812.9" x2="1783.92" y2="820.2"/>
<line x1="974.72" y1="116" x2="982.02" y2="116"/>
</g>
<text x="975.86" y="842.80" font-size="21.60" textLength="12.63" lengthAdjust="spacingAndGlyphs" xml:space="preserve">0</text>
<text x="1062.55" y="842.80" font-size="21.60" textLength="39.50" lengthAdjust="spacingAndGlyphs" xml:space="preserve">250</text>
<text x="1163.00" y="842.80" font-size="21.60" textLength="39.25" lengthAdjust="spacingAndGlyphs" xml:space="preserve">500</text>
<text x="1262.97" y="842.80" font-size="21.60" textLength="39.50" lengthAdjust="spacingAndGlyphs" xml:space="preserve">750</text>
<text x="1356.38" y="842.80" font-size="21.60" textLength="52.44" lengthAdjust="spacingAndGlyphs" xml:space="preserve">1000</text>
<text x="1456.59" y="842.80" font-size="21.60" textLength="52.44" lengthAdjust="spacingAndGlyphs" xml:space="preserve">1250</text>
<text x="1556.80" y="842.80" font-size="21.60" textLength="52.44" lengthAdjust="spacingAndGlyphs" xml:space="preserve">1500</text>
<text x="1657.02" y="842.80" font-size="21.60" textLength="52.44" lengthAdjust="spacingAndGlyphs" xml:space="preserve">1750</text>
<text x="1757.41" y="842.80" font-size="21.60" textLength="52.65" lengthAdjust="spacingAndGlyphs" xml:space="preserve">2000</text>
<text x="1369.19" y="871.30" font-size="21.30" textLength="48.29" lengthAdjust="spacingAndGlyphs" xml:space="preserve">pixel</text>
<text x="1355.88" y="86.70" font-size="25.10" textLength="72.99" lengthAdjust="spacingAndGlyphs" xml:space="preserve">CHIP2</text>
<g clip-path="url(#c2)">
<rect x="1844.93" y="99.85" width="820" height="713.05" fill="#260996" filter="url(#nd)"/>
<g filter="url(#nz)" fill="#5a09a2">
<polygon points="1834.93,371.4 2674.93,363.4 2674.93,427.8 1834.93,437.5"/>
<polygon points="1834.93,490 2674.93,481 2674.93,544.8 1834.93,552.5"/>
<polygon points="1834.93,625.8 2674.93,618.7 2674.93,682.2 1834.93,689.6"/>
</g>
<polygon filter="url(#bb)" fill="#c8508a" opacity="0.06" points="1834.93,371.4 2674.93,363.4 2674.93,427.8 1834.93,437.5"/>
<polygon filter="url(#bb)" fill="#c8508a" opacity="0.1" points="1834.93,490 2674.93,481 2674.93,544.8 1834.93,552.5"/>
<polygon filter="url(#bb)" fill="#c8508a" opacity="0.14" points="1834.93,625.8 2674.93,618.7 2674.93,682.2 1834.93,689.6"/>
<clipPath id="sk2_2"><polygon points="1834.93,625.8 2674.93,618.7 2674.93,682.2 1834.93,689.6"/></clipPath>
<g clip-path="url(#sk2_2)"><g filter="url(#bsk)" fill="#e0707a">
<rect x="2020" y="613.7" width="14" height="80.9" opacity="0.208"/>
<rect x="2244" y="613.7" width="71" height="80.9" opacity="0.208"/>
<rect x="2324" y="613.7" width="13" height="80.9" opacity="0.182"/>
</g></g>
<clipPath id="sk2_1"><polygon points="1834.93,490 2674.93,481 2674.93,544.8 1834.93,552.5"/></clipPath>
<g clip-path="url(#sk2_1)"><g filter="url(#bsk)" fill="#e0707a">
<rect x="2186" y="476" width="10" height="81.5" opacity="0.195"/>
<rect x="2390" y="476" width="10" height="81.5" opacity="0.182"/>
</g></g>
<g filter="url(#bb)" fill="#4a08a0" opacity="0.55">
<polygon points="1834.93,113.1 2674.93,103.1 2674.93,120.1 1834.93,130.1"/>
<polygon points="1834.93,148.8 2674.93,138.8 2674.93,155.8 1834.93,165.8"/>
<polygon points="1834.93,189.1 2674.93,179.4 2674.93,196.4 1834.93,206.1"/>
<polygon points="1834.93,224.9 2674.93,215.5 2674.93,232.5 1834.93,241.9"/>
<polygon points="1834.93,275.1 2674.93,265.8 2674.93,282.8 1834.93,292.1"/>
<polygon points="1834.93,311.5 2674.93,302.8 2674.93,319.8 1834.93,328.5"/>
</g>
<g filter="url(#bh)" stroke="#8c0ba4" fill="none" opacity="0.8">
<line x1="1839.93" y1="125.61" x2="2669.93" y2="115.2" stroke-width="9.2"/>
<line x1="1839.93" y1="201.01" x2="2669.93" y2="191.81" stroke-width="9.2"/>
<line x1="1839.93" y1="287" x2="2669.93" y2="278.21" stroke-width="9.2"/>
</g>
<g filter="url(#bm)" stroke="#e9636a" fill="none">
<line x1="1839.93" y1="125.61" x2="2669.93" y2="115.2" stroke-width="5.2"/>
<line x1="1839.93" y1="201.01" x2="2669.93" y2="191.81" stroke-width="5.2"/>
<line x1="1839.93" y1="287" x2="2669.93" y2="278.21" stroke-width="5.2"/>
</g>
<g stroke="#f0f921" fill="none">
<line x1="1839.93" y1="125.61" x2="2669.93" y2="115.2" stroke-width="3.7"/>
<line x1="1839.93" y1="201.01" x2="2669.93" y2="191.81" stroke-width="3.7"/>
<line x1="1839.93" y1="287" x2="2669.93" y2="278.21" stroke-width="3.7"/>
</g>
<g filter="url(#bh)" stroke="#8c0ba4" fill="none" opacity="0.85">
<line x1="1839.93" y1="162.01" x2="2669.93" y2="152.2" stroke-width="11.600000000000001"/>
<line x1="1839.93" y1="237.41" x2="2669.93" y2="227.9" stroke-width="11.600000000000001"/>
<line x1="1839.93" y1="323.7" x2="2669.93" y2="314.91" stroke-width="11.600000000000001"/>
</g>
<g filter="url(#bm)" stroke="#ec6f5c" fill="none">
<line x1="1839.93" y1="162.01" x2="2669.93" y2="152.2" stroke-width="7.0"/>
<line x1="1839.93" y1="237.41" x2="2669.93" y2="227.9" stroke-width="7.0"/>
<line x1="1839.93" y1="323.7" x2="2669.93" y2="314.91" stroke-width="7.0"/>
</g>
<g stroke="#f0f921" fill="none">
<line x1="1839.93" y1="162.01" x2="2669.93" y2="152.2" stroke-width="4.9"/>
<line x1="1839.93" y1="237.41" x2="2669.93" y2="227.9" stroke-width="4.9"/>
<line x1="1839.93" y1="323.7" x2="2669.93" y2="314.91" stroke-width="4.9"/>
</g>
<g filter="url(#bh)" stroke="#8c0ba4" fill="none" opacity="0.45">
<line x1="1839.93" y1="502.2" x2="2003.7" y2="500.47" stroke-width="7"/>
<line x1="2006.9" y1="500.43" x2="2187.3" y2="498.52" stroke-width="7"/>
<line x1="2190.5" y1="498.49" x2="2279.2" y2="497.55" stroke-width="7"/>
<line x1="2282.4" y1="497.51" x2="2391.9" y2="496.35" stroke-width="7"/>
<line x1="2395.1" y1="496.32" x2="2561" y2="494.56" stroke-width="7"/>
<line x1="2564.2" y1="494.53" x2="2669.93" y2="493.41" stroke-width="7"/>
<line x1="1839.93" y1="539.3" x2="2005.4" y2="537.67" stroke-width="7"/>
<line x1="2008.6" y1="537.64" x2="2188.4" y2="535.86" stroke-width="7"/>
<line x1="2191.6" y1="535.83" x2="2280.4" y2="534.95" stroke-width="7"/>
<line x1="2283.6" y1="534.92" x2="2393.4" y2="533.84" stroke-width="7"/>
<line x1="2396.6" y1="533.81" x2="2562.4" y2="532.17" stroke-width="7"/>
<line x1="2565.6" y1="532.14" x2="2669.93" y2="531.11" stroke-width="7"/>
<line x1="1845.8" y1="675.94" x2="2250.2" y2="672.3" stroke-width="7"/>
<line x1="2253.4" y1="672.27" x2="2308.1" y2="671.78" stroke-width="7"/>
</g>
<g filter="url(#bm)" stroke="#e9636a" fill="none">
<line x1="1839.93" y1="502.2" x2="2003.7" y2="500.47" stroke-width="3.8"/>
<line x1="2006.9" y1="500.43" x2="2187.3" y2="498.52" stroke-width="3.8"/>
<line x1="2190.5" y1="498.49" x2="2279.2" y2="497.55" stroke-width="3.8"/>
<line x1="2282.4" y1="497.51" x2="2391.9" y2="496.35" stroke-width="3.8"/>
<line x1="2395.1" y1="496.32" x2="2561" y2="494.56" stroke-width="3.8"/>
<line x1="2564.2" y1="494.53" x2="2669.93" y2="493.41" stroke-width="3.8"/>
<line x1="1839.93" y1="539.3" x2="2005.4" y2="537.67" stroke-width="3.8"/>
<line x1="2008.6" y1="537.64" x2="2188.4" y2="535.86" stroke-width="3.8"/>
<line x1="2191.6" y1="535.83" x2="2280.4" y2="534.95" stroke-width="3.8"/>
<line x1="2283.6" y1="534.92" x2="2393.4" y2="533.84" stroke-width="3.8"/>
<line x1="2396.6" y1="533.81" x2="2562.4" y2="532.17" stroke-width="3.8"/>
<line x1="2565.6" y1="532.14" x2="2669.93" y2="531.11" stroke-width="3.8"/>
<line x1="1845.8" y1="675.94" x2="2250.2" y2="672.3" stroke-width="3.8"/>
<line x1="2253.4" y1="672.27" x2="2308.1" y2="671.78" stroke-width="3.8"/>
</g>
<g stroke="#f0f921" fill="none">
<line x1="1839.93" y1="502.2" x2="2003.7" y2="500.47" stroke-width="2.4"/>
<line x1="2006.9" y1="500.43" x2="2187.3" y2="498.52" stroke-width="2.4"/>
<line x1="2190.5" y1="498.49" x2="2279.2" y2="497.55" stroke-width="2.4"/>
<line x1="2282.4" y1="497.51" x2="2391.9" y2="496.35" stroke-width="2.4"/>
<line x1="2395.1" y1="496.32" x2="2561" y2="494.56" stroke-width="2.4"/>
<line x1="2564.2" y1="494.53" x2="2669.93" y2="493.41" stroke-width="2.4"/>
<line x1="1839.93" y1="539.3" x2="2005.4" y2="537.67" stroke-width="2.4"/>
<line x1="2008.6" y1="537.64" x2="2188.4" y2="535.86" stroke-width="2.4"/>
<line x1="2191.6" y1="535.83" x2="2280.4" y2="534.95" stroke-width="2.4"/>
<line x1="2283.6" y1="534.92" x2="2393.4" y2="533.84" stroke-width="2.4"/>
<line x1="2396.6" y1="533.81" x2="2562.4" y2="532.17" stroke-width="2.4"/>
<line x1="2565.6" y1="532.14" x2="2669.93" y2="531.11" stroke-width="2.4"/>
<line x1="1845.8" y1="675.94" x2="2250.2" y2="672.3" stroke-width="2.4"/>
<line x1="2253.4" y1="672.27" x2="2308.1" y2="671.78" stroke-width="2.4"/>
</g>
<g filter="url(#bh)" stroke="#9c179e" fill="none" opacity="0.25">
<line x1="1845.8" y1="638.24" x2="2019.8" y2="636.76" stroke-width="4"/>
<line x1="2027.9" y1="636.69" x2="2134.2" y2="635.78" stroke-width="4"/>
<line x1="2139" y1="635.74" x2="2214.7" y2="635.1" stroke-width="4"/>
<line x1="2482" y1="670.21" x2="2585.2" y2="669.28" stroke-width="4"/>
<line x1="2591.6" y1="669.22" x2="2666" y2="668.55" stroke-width="4"/>
</g>
<g filter="url(#bm)" stroke="#d0487a" fill="none">
<line x1="1845.8" y1="638.24" x2="2019.8" y2="636.76" stroke-width="2.2"/>
<line x1="2027.9" y1="636.69" x2="2134.2" y2="635.78" stroke-width="2.2"/>
<line x1="2139" y1="635.74" x2="2214.7" y2="635.1" stroke-width="2.2"/>
<line x1="2482" y1="670.21" x2="2585.2" y2="669.28" stroke-width="2.2"/>
<line x1="2591.6" y1="669.22" x2="2666" y2="668.55" stroke-width="2.2"/>
</g>
<g stroke="#f8a03a" fill="none">
<line x1="1845.8" y1="638.24" x2="2019.8" y2="636.76" stroke-width="1.1"/>
<line x1="2027.9" y1="636.69" x2="2134.2" y2="635.78" stroke-width="1.1"/>
<line x1="2139" y1="635.74" x2="2214.7" y2="635.1" stroke-width="1.1"/>
<line x1="2482" y1="670.21" x2="2585.2" y2="669.28" stroke-width="1.1"/>
<line x1="2591.6" y1="669.22" x2="2666" y2="668.55" stroke-width="1.1"/>
</g>
<g filter="url(#bh)" stroke="#6a0aa6" fill="none" opacity="0.85"><line x1="1840" y1="102" x2="2150" y2="101" stroke-width="6"/><line x1="2150" y1="101" x2="2300" y2="100.5" stroke-width="3"/></g>
<g fill="none" stroke-width="2.6">
<line x1="1844.93" y1="122.22" x2="2664.93" y2="112.22" stroke="#000"/>
<line x1="1844.93" y1="122.22" x2="2664.93" y2="112.22" stroke="#fff" stroke-dasharray="10.1 9.9"/>
<line x1="1844.93" y1="137.89" x2="2664.93" y2="127.89" stroke="#000"/>
<line x1="1844.93" y1="137.89" x2="2664.93" y2="127.89" stroke="#fff" stroke-dasharray="10.1 9.9"/>
<line x1="1844.93" y1="157.97" x2="2664.93" y2="148.11" stroke="#000"/>
<line x1="1844.93" y1="157.97" x2="2664.93" y2="148.11" stroke="#fff" stroke-dasharray="10.1 9.9"/>
<line x1="1844.93" y1="173.63" x2="2664.93" y2="163.78" stroke="#000"/>
<line x1="1844.93" y1="173.63" x2="2664.93" y2="163.78" stroke="#fff" stroke-dasharray="10.1 9.9"/>
<line x1="1844.93" y1="198.26" x2="2664.93" y2="188.56" stroke="#000"/>
<line x1="1844.93" y1="198.26" x2="2664.93" y2="188.56" stroke="#fff" stroke-dasharray="10.1 9.9"/>
<line x1="1844.93" y1="213.93" x2="2664.93" y2="204.23" stroke="#000"/>
<line x1="1844.93" y1="213.93" x2="2664.93" y2="204.23" stroke="#fff" stroke-dasharray="10.1 9.9"/>
<line x1="1844.93" y1="234.16" x2="2664.93" y2="224.66" stroke="#000"/>
<line x1="1844.93" y1="234.16" x2="2664.93" y2="224.66" stroke="#fff" stroke-dasharray="10.1 9.9"/>
<line x1="1844.93" y1="249.83" x2="2664.93" y2="240.33" stroke="#000"/>
<line x1="1844.93" y1="249.83" x2="2664.93" y2="240.33" stroke="#fff" stroke-dasharray="10.1 9.9"/>
<line x1="1844.93" y1="284.27" x2="2664.93" y2="274.77" stroke="#000"/>
<line x1="1844.93" y1="284.27" x2="2664.93" y2="274.77" stroke="#fff" stroke-dasharray="10.1 9.9"/>
<line x1="1844.93" y1="299.94" x2="2664.93" y2="290.44" stroke="#000"/>
<line x1="1844.93" y1="299.94" x2="2664.93" y2="290.44" stroke="#fff" stroke-dasharray="10.1 9.9"/>
<line x1="1844.93" y1="320.67" x2="2664.93" y2="311.47" stroke="#000"/>
<line x1="1844.93" y1="320.67" x2="2664.93" y2="311.47" stroke="#fff" stroke-dasharray="10.1 9.9"/>
<line x1="1844.93" y1="336.34" x2="2664.93" y2="327.14" stroke="#000"/>
<line x1="1844.93" y1="336.34" x2="2664.93" y2="327.14" stroke="#fff" stroke-dasharray="10.1 9.9"/>
<line x1="1844.93" y1="383.67" x2="2664.93" y2="374.81" stroke="#000"/>
<line x1="1844.93" y1="383.67" x2="2664.93" y2="374.81" stroke="#fff" stroke-dasharray="10.1 9.9"/>
<line x1="1844.93" y1="399.34" x2="2664.93" y2="390.49" stroke="#000"/>
<line x1="1844.93" y1="399.34" x2="2664.93" y2="390.49" stroke="#fff" stroke-dasharray="10.1 9.9"/>
<line x1="1844.93" y1="419.92" x2="2664.93" y2="411.42" stroke="#000"/>
<line x1="1844.93" y1="419.92" x2="2664.93" y2="411.42" stroke="#fff" stroke-dasharray="10.1 9.9"/>
<line x1="1844.93" y1="435.59" x2="2664.93" y2="427.09" stroke="#000"/>
<line x1="1844.93" y1="435.59" x2="2664.93" y2="427.09" stroke="#fff" stroke-dasharray="10.1 9.9"/>
<line x1="1844.93" y1="499.31" x2="2664.93" y2="491.06" stroke="#000"/>
<line x1="1844.93" y1="499.31" x2="2664.93" y2="491.06" stroke="#fff" stroke-dasharray="10.1 9.9"/>
<line x1="1844.93" y1="514.99" x2="2664.93" y2="506.74" stroke="#000"/>
<line x1="1844.93" y1="514.99" x2="2664.93" y2="506.74" stroke="#fff" stroke-dasharray="10.1 9.9"/>
<line x1="1844.93" y1="535.87" x2="2664.93" y2="528.16" stroke="#000"/>
<line x1="1844.93" y1="535.87" x2="2664.93" y2="528.16" stroke="#fff" stroke-dasharray="10.1 9.9"/>
<line x1="1844.93" y1="551.53" x2="2664.93" y2="543.83" stroke="#000"/>
<line x1="1844.93" y1="551.53" x2="2664.93" y2="543.83" stroke="#fff" stroke-dasharray="10.1 9.9"/>
<line x1="1844.93" y1="635.71" x2="2664.93" y2="628.87" stroke="#000"/>
<line x1="1844.93" y1="635.71" x2="2664.93" y2="628.87" stroke="#fff" stroke-dasharray="10.1 9.9"/>
<line x1="1844.93" y1="651.38" x2="2664.93" y2="644.53" stroke="#000"/>
<line x1="1844.93" y1="651.38" x2="2664.93" y2="644.53" stroke="#fff" stroke-dasharray="10.1 9.9"/>
<line x1="1844.93" y1="672.66" x2="2664.93" y2="665.71" stroke="#000"/>
<line x1="1844.93" y1="672.66" x2="2664.93" y2="665.71" stroke="#fff" stroke-dasharray="10.1 9.9"/>
<line x1="1844.93" y1="688.33" x2="2664.93" y2="681.38" stroke="#000"/>
<line x1="1844.93" y1="688.33" x2="2664.93" y2="681.38" stroke="#fff" stroke-dasharray="10.1 9.9"/>
</g>
</g>
<rect x="1844.93" y="99.85" width="820" height="713.05" fill="none" stroke="#000" stroke-width="1.67"/>
<g stroke="#000" stroke-width="1.67">
<line x1="1845.13" y1="812.9" x2="1845.13" y2="820.2"/>
<line x1="1837.63" y1="812.2" x2="1844.93" y2="812.2"/>
<line x1="1945.34" y1="812.9" x2="1945.34" y2="820.2"/>
<line x1="1837.63" y1="725.18" x2="1844.93" y2="725.18"/>
<line x1="2045.56" y1="812.9" x2="2045.56" y2="820.2"/>
<line x1="1837.63" y1="638.15" x2="1844.93" y2="638.15"/>
<line x1="2145.77" y1="812.9" x2="2145.77" y2="820.2"/>
<line x1="1837.63" y1="551.12" x2="1844.93" y2="551.12"/>
<line x1="2245.98" y1="812.9" x2="2245.98" y2="820.2"/>
<line x1="1837.63" y1="464.1" x2="1844.93" y2="464.1"/>
<line x1="2346.19" y1="812.9" x2="2346.19" y2="820.2"/>
<line x1="1837.63" y1="377.08" x2="1844.93" y2="377.08"/>
<line x1="2446.41" y1="812.9" x2="2446.41" y2="820.2"/>
<line x1="1837.63" y1="290.05" x2="1844.93" y2="290.05"/>
<line x1="2546.62" y1="812.9" x2="2546.62" y2="820.2"/>
<line x1="1837.63" y1="203.02" x2="1844.93" y2="203.02"/>
<line x1="2646.83" y1="812.9" x2="2646.83" y2="820.2"/>
<line x1="1837.63" y1="116" x2="1844.93" y2="116"/>
</g>
<text x="1838.77" y="842.80" font-size="21.60" textLength="12.63" lengthAdjust="spacingAndGlyphs" xml:space="preserve">0</text>
<text x="1925.46" y="842.80" font-size="21.60" textLength="39.50" lengthAdjust="spacingAndGlyphs" xml:space="preserve">250</text>
<text x="2025.91" y="842.80" font-size="21.60" textLength="39.25" lengthAdjust="spacingAndGlyphs" xml:space="preserve">500</text>
<text x="2125.88" y="842.80" font-size="21.60" textLength="39.50" lengthAdjust="spacingAndGlyphs" xml:space="preserve">750</text>
<text x="2219.29" y="842.80" font-size="21.60" textLength="52.44" lengthAdjust="spacingAndGlyphs" xml:space="preserve">1000</text>
<text x="2319.50" y="842.80" font-size="21.60" textLength="52.44" lengthAdjust="spacingAndGlyphs" xml:space="preserve">1250</text>
<text x="2419.71" y="842.80" font-size="21.60" textLength="52.44" lengthAdjust="spacingAndGlyphs" xml:space="preserve">1500</text>
<text x="2519.93" y="842.80" font-size="21.60" textLength="52.44" lengthAdjust="spacingAndGlyphs" xml:space="preserve">1750</text>
<text x="2620.32" y="842.80" font-size="21.60" textLength="52.65" lengthAdjust="spacingAndGlyphs" xml:space="preserve">2000</text>
<text x="2232.10" y="871.30" font-size="21.30" textLength="48.29" lengthAdjust="spacingAndGlyphs" xml:space="preserve">pixel</text>
<text x="2218.80" y="86.70" font-size="25.10" textLength="72.73" lengthAdjust="spacingAndGlyphs" xml:space="preserve">CHIP3</text>
<text x="91.19" y="819.90" font-size="21.60" textLength="12.63" lengthAdjust="spacingAndGlyphs" xml:space="preserve">0</text>
<text x="64.42" y="732.88" font-size="21.60" textLength="39.50" lengthAdjust="spacingAndGlyphs" xml:space="preserve">250</text>
<text x="64.66" y="645.85" font-size="21.60" textLength="39.25" lengthAdjust="spacingAndGlyphs" xml:space="preserve">500</text>
<text x="64.42" y="558.83" font-size="21.60" textLength="39.50" lengthAdjust="spacingAndGlyphs" xml:space="preserve">750</text>
<text x="51.38" y="471.80" font-size="21.60" textLength="52.44" lengthAdjust="spacingAndGlyphs" xml:space="preserve">1000</text>
<text x="51.38" y="384.78" font-size="21.60" textLength="52.44" lengthAdjust="spacingAndGlyphs" xml:space="preserve">1250</text>
<text x="51.38" y="297.75" font-size="21.60" textLength="52.44" lengthAdjust="spacingAndGlyphs" xml:space="preserve">1500</text>
<text x="51.38" y="210.72" font-size="21.60" textLength="52.44" lengthAdjust="spacingAndGlyphs" xml:space="preserve">1750</text>
<text x="51.17" y="123.70" font-size="21.60" textLength="52.65" lengthAdjust="spacingAndGlyphs" xml:space="preserve">2000</text>
<g transform="translate(39.5,481) rotate(-90)"><text x="-1.52" y="0.00" font-size="21.30" textLength="48.08" lengthAdjust="spacingAndGlyphs" xml:space="preserve">pixel</text></g>
<text x="1044.28" y="33.80" font-size="22.20" textLength="611.55" lengthAdjust="spacingAndGlyphs" xml:space="preserve">bet_Pic_b_M4368_2022-04-11_00292  (extract_height=45)</text>
</svg></body></html>
